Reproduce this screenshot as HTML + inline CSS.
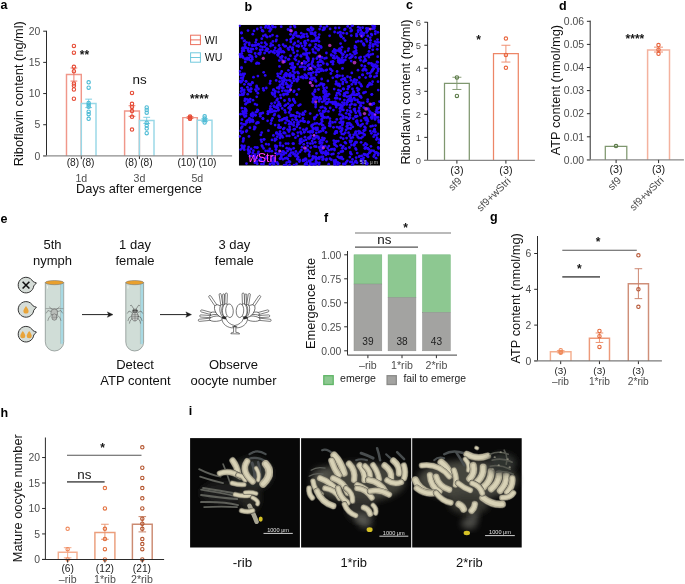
<!DOCTYPE html>
<html><head><meta charset="utf-8"><title>Figure</title>
<style>
html,body{margin:0;padding:0;background:#fff;}
svg{display:block;}
text{font-family:"Liberation Sans", Arial, Helvetica, sans-serif;}
</style></head>
<body>
<svg width="685" height="584" viewBox="0 0 685 584">
<defs><filter id="soft" x="-5%" y="-5%" width="110%" height="110%"><feGaussianBlur stdDeviation="0.55"/></filter><filter id="soft1" x="-50%" y="-50%" width="200%" height="200%"><feGaussianBlur stdDeviation="0.5"/></filter><filter id="blur3" x="-30%" y="-30%" width="160%" height="160%"><feGaussianBlur stdDeviation="3"/></filter></defs>
<rect width="685" height="584" fill="#fff"/>
<text x="0.60" y="9.20" font-size="12.5" fill="#000" text-anchor="start" font-weight="bold">a</text>
<line x1="46.50" y1="30.80" x2="46.50" y2="155.90" stroke="#2b2b2b" stroke-width="1"/>
<line x1="43.20" y1="155.90" x2="46.50" y2="155.90" stroke="#2b2b2b" stroke-width="1"/>
<text x="40.40" y="159.60" font-size="10.4" fill="#4d4d4d" text-anchor="end" font-weight="normal">0</text>
<line x1="43.20" y1="124.73" x2="46.50" y2="124.73" stroke="#2b2b2b" stroke-width="1"/>
<text x="40.40" y="128.43" font-size="10.4" fill="#4d4d4d" text-anchor="end" font-weight="normal">5</text>
<line x1="43.20" y1="93.55" x2="46.50" y2="93.55" stroke="#2b2b2b" stroke-width="1"/>
<text x="40.40" y="97.25" font-size="10.4" fill="#4d4d4d" text-anchor="end" font-weight="normal">10</text>
<line x1="43.20" y1="62.38" x2="46.50" y2="62.38" stroke="#2b2b2b" stroke-width="1"/>
<text x="40.40" y="66.08" font-size="10.4" fill="#4d4d4d" text-anchor="end" font-weight="normal">15</text>
<line x1="43.20" y1="31.20" x2="46.50" y2="31.20" stroke="#2b2b2b" stroke-width="1"/>
<text x="40.40" y="34.90" font-size="10.4" fill="#4d4d4d" text-anchor="end" font-weight="normal">20</text>
<path d="M66.50,155.90 V74.53 H81.30 V155.90" fill="none" stroke="#F0978A" stroke-width="1.45"/>
<path d="M81.30,155.90 V103.40 H96.00 V155.90" fill="none" stroke="#98D8E7" stroke-width="1.45"/>
<line x1="73.90" y1="67.99" x2="73.90" y2="81.08" stroke="#EC7868" stroke-width="0.95"/>
<line x1="70.50" y1="67.99" x2="77.30" y2="67.99" stroke="#EC7868" stroke-width="0.95"/>
<line x1="70.50" y1="81.08" x2="77.30" y2="81.08" stroke="#EC7868" stroke-width="0.95"/>
<line x1="88.65" y1="99.16" x2="88.65" y2="107.58" stroke="#7ACCE0" stroke-width="0.95"/>
<line x1="85.25" y1="99.16" x2="92.05" y2="99.16" stroke="#7ACCE0" stroke-width="0.95"/>
<line x1="85.25" y1="107.58" x2="92.05" y2="107.58" stroke="#7ACCE0" stroke-width="0.95"/>
<circle cx="73.90" cy="45.91" r="1.70" fill="none" stroke="#E64B35" stroke-width="1.1"/>
<circle cx="73.90" cy="52.71" r="1.70" fill="none" stroke="#E64B35" stroke-width="1.1"/>
<circle cx="73.90" cy="66.80" r="1.70" fill="none" stroke="#E64B35" stroke-width="1.1"/>
<circle cx="73.90" cy="71.23" r="1.70" fill="none" stroke="#E64B35" stroke-width="1.1"/>
<circle cx="73.90" cy="83.57" r="1.70" fill="none" stroke="#E64B35" stroke-width="1.1"/>
<circle cx="73.90" cy="85.76" r="1.70" fill="none" stroke="#E64B35" stroke-width="1.1"/>
<circle cx="73.90" cy="89.50" r="1.70" fill="none" stroke="#E64B35" stroke-width="1.1"/>
<circle cx="73.90" cy="98.73" r="1.70" fill="none" stroke="#E64B35" stroke-width="1.1"/>
<circle cx="88.65" cy="82.33" r="1.70" fill="none" stroke="#4DBBD5" stroke-width="1.1"/>
<circle cx="88.65" cy="87.63" r="1.70" fill="none" stroke="#4DBBD5" stroke-width="1.1"/>
<circle cx="88.65" cy="102.90" r="1.70" fill="none" stroke="#4DBBD5" stroke-width="1.1"/>
<circle cx="88.65" cy="104.77" r="1.70" fill="none" stroke="#4DBBD5" stroke-width="1.1"/>
<circle cx="88.65" cy="106.64" r="1.70" fill="none" stroke="#4DBBD5" stroke-width="1.1"/>
<circle cx="88.65" cy="111.63" r="1.70" fill="none" stroke="#4DBBD5" stroke-width="1.1"/>
<circle cx="88.65" cy="114.13" r="1.70" fill="none" stroke="#4DBBD5" stroke-width="1.1"/>
<circle cx="88.65" cy="118.80" r="1.70" fill="none" stroke="#4DBBD5" stroke-width="1.1"/>
<line x1="81.30" y1="155.90" x2="81.30" y2="159.10" stroke="#2b2b2b" stroke-width="1"/>
<path d="M124.60,155.90 V111.07 H139.40 V155.90" fill="none" stroke="#F0978A" stroke-width="1.45"/>
<path d="M139.40,155.90 V120.49 H154.00 V155.90" fill="none" stroke="#98D8E7" stroke-width="1.45"/>
<line x1="132.00" y1="105.71" x2="132.00" y2="116.31" stroke="#EC7868" stroke-width="0.95"/>
<line x1="128.60" y1="105.71" x2="135.40" y2="105.71" stroke="#EC7868" stroke-width="0.95"/>
<line x1="128.60" y1="116.31" x2="135.40" y2="116.31" stroke="#EC7868" stroke-width="0.95"/>
<line x1="146.70" y1="117.31" x2="146.70" y2="123.48" stroke="#7ACCE0" stroke-width="0.95"/>
<line x1="143.30" y1="117.31" x2="150.10" y2="117.31" stroke="#7ACCE0" stroke-width="0.95"/>
<line x1="143.30" y1="123.48" x2="150.10" y2="123.48" stroke="#7ACCE0" stroke-width="0.95"/>
<circle cx="132.00" cy="92.93" r="1.70" fill="none" stroke="#E64B35" stroke-width="1.1"/>
<circle cx="132.00" cy="103.78" r="1.70" fill="none" stroke="#E64B35" stroke-width="1.1"/>
<circle cx="132.00" cy="106.89" r="1.70" fill="none" stroke="#E64B35" stroke-width="1.1"/>
<circle cx="132.00" cy="111.07" r="1.70" fill="none" stroke="#E64B35" stroke-width="1.1"/>
<circle cx="132.00" cy="116.81" r="1.70" fill="none" stroke="#E64B35" stroke-width="1.1"/>
<circle cx="132.00" cy="129.59" r="1.70" fill="none" stroke="#E64B35" stroke-width="1.1"/>
<circle cx="146.70" cy="107.52" r="1.70" fill="none" stroke="#4DBBD5" stroke-width="1.1"/>
<circle cx="146.70" cy="110.01" r="1.70" fill="none" stroke="#4DBBD5" stroke-width="1.1"/>
<circle cx="146.70" cy="112.63" r="1.70" fill="none" stroke="#4DBBD5" stroke-width="1.1"/>
<circle cx="146.70" cy="122.73" r="1.70" fill="none" stroke="#4DBBD5" stroke-width="1.1"/>
<circle cx="146.70" cy="125.41" r="1.70" fill="none" stroke="#4DBBD5" stroke-width="1.1"/>
<circle cx="146.70" cy="128.53" r="1.70" fill="none" stroke="#4DBBD5" stroke-width="1.1"/>
<circle cx="146.70" cy="133.20" r="1.70" fill="none" stroke="#4DBBD5" stroke-width="1.1"/>
<line x1="139.40" y1="155.90" x2="139.40" y2="159.10" stroke="#2b2b2b" stroke-width="1"/>
<path d="M182.80,155.90 V117.62 H197.30 V155.90" fill="none" stroke="#F0978A" stroke-width="1.45"/>
<path d="M197.30,155.90 V120.30 H212.00 V155.90" fill="none" stroke="#98D8E7" stroke-width="1.45"/>
<line x1="190.05" y1="116.62" x2="190.05" y2="118.49" stroke="#EC7868" stroke-width="0.95"/>
<line x1="186.65" y1="116.62" x2="193.45" y2="116.62" stroke="#EC7868" stroke-width="0.95"/>
<line x1="186.65" y1="118.49" x2="193.45" y2="118.49" stroke="#EC7868" stroke-width="0.95"/>
<line x1="204.65" y1="118.80" x2="204.65" y2="121.61" stroke="#7ACCE0" stroke-width="0.95"/>
<line x1="201.25" y1="118.80" x2="208.05" y2="118.80" stroke="#7ACCE0" stroke-width="0.95"/>
<line x1="201.25" y1="121.61" x2="208.05" y2="121.61" stroke="#7ACCE0" stroke-width="0.95"/>
<circle cx="190.05" cy="116.62" r="1.70" fill="none" stroke="#E64B35" stroke-width="1.1"/>
<circle cx="190.05" cy="117.55" r="1.70" fill="none" stroke="#E64B35" stroke-width="1.1"/>
<circle cx="190.05" cy="118.49" r="1.70" fill="none" stroke="#E64B35" stroke-width="1.1"/>
<circle cx="190.05" cy="118.80" r="1.70" fill="none" stroke="#E64B35" stroke-width="1.1"/>
<circle cx="204.65" cy="116.31" r="1.70" fill="none" stroke="#4DBBD5" stroke-width="1.1"/>
<circle cx="204.65" cy="118.49" r="1.70" fill="none" stroke="#4DBBD5" stroke-width="1.1"/>
<circle cx="204.65" cy="120.36" r="1.70" fill="none" stroke="#4DBBD5" stroke-width="1.1"/>
<circle cx="204.65" cy="122.54" r="1.70" fill="none" stroke="#4DBBD5" stroke-width="1.1"/>
<line x1="197.30" y1="155.90" x2="197.30" y2="159.10" stroke="#2b2b2b" stroke-width="1"/>
<line x1="43.20" y1="155.90" x2="232.10" y2="155.90" stroke="#8c8c8c" stroke-width="1.3"/>
<text x="80.60" y="166.40" font-size="10.2" fill="#222" text-anchor="middle" font-weight="normal">(8) (8)</text>
<text x="138.80" y="166.40" font-size="10.2" fill="#222" text-anchor="middle" font-weight="normal">(8) (8)</text>
<text x="197.00" y="166.40" font-size="10.2" fill="#222" text-anchor="middle" font-weight="normal">(10) (10)</text>
<text x="81.30" y="182.00" font-size="10.6" fill="#4d4d4d" text-anchor="middle" font-weight="normal">1d</text>
<text x="139.40" y="182.00" font-size="10.6" fill="#4d4d4d" text-anchor="middle" font-weight="normal">3d</text>
<text x="197.30" y="182.00" font-size="10.6" fill="#4d4d4d" text-anchor="middle" font-weight="normal">5d</text>
<text x="139.00" y="193.40" font-size="12.8" fill="#111" text-anchor="middle" font-weight="normal">Days after emergence</text>
<text transform="translate(23.30,93.70) rotate(-90)" font-size="12.8" fill="#111" text-anchor="middle">Riboflavin content (ng/ml)</text>
<text x="84.45" y="58.80" font-size="12.0" fill="#151515" text-anchor="middle" font-weight="bold">**</text>
<text x="139.60" y="83.60" font-size="13.4" fill="#111" text-anchor="middle" font-weight="normal">ns</text>
<text x="199.30" y="102.60" font-size="12.0" fill="#151515" text-anchor="middle" font-weight="bold">****</text>
<rect x="190.60" y="35.20" width="9.80" height="9.40" fill="none" stroke="#E64B35" stroke-width="1" stroke-opacity="0.8"/>
<line x1="190.60" y1="39.90" x2="200.40" y2="39.90" stroke="#E64B35" stroke-width="1" stroke-opacity="0.8"/>
<text x="204.70" y="43.80" font-size="10.6" fill="#111" text-anchor="start" font-weight="normal">WI</text>
<rect x="190.60" y="52.80" width="9.80" height="9.40" fill="none" stroke="#4DBBD5" stroke-width="1" stroke-opacity="0.8"/>
<line x1="190.60" y1="57.50" x2="200.40" y2="57.50" stroke="#4DBBD5" stroke-width="1" stroke-opacity="0.8"/>
<text x="204.70" y="61.40" font-size="10.6" fill="#111" text-anchor="start" font-weight="normal">WU</text>
<text x="244.60" y="10.80" font-size="12.5" fill="#000" text-anchor="start" font-weight="bold">b</text>
<clipPath id="mclip"><rect x="238.8" y="24.8" width="141.2" height="140.9"/></clipPath><g id="micro" clip-path="url(#mclip)">
<rect x="238.80" y="24.80" width="141.20" height="140.90" fill="#000" stroke="none" stroke-width="1"/>
<g fill="#2a06f8"><circle cx="267.0" cy="158.2" r="1.38"/><circle cx="324.0" cy="84.4" r="1.38"/><circle cx="254.0" cy="30.9" r="1.38"/><circle cx="354.8" cy="108.8" r="1.38"/><circle cx="280.6" cy="50.0" r="1.38"/><circle cx="340.3" cy="35.1" r="1.38"/><circle cx="271.5" cy="103.6" r="1.38"/><circle cx="358.8" cy="111.3" r="1.38"/><circle cx="278.7" cy="153.7" r="1.38"/><circle cx="268.1" cy="27.8" r="1.38"/><circle cx="277.2" cy="87.8" r="1.38"/><circle cx="248.0" cy="50.1" r="1.38"/><circle cx="291.1" cy="105.4" r="1.38"/><circle cx="257.9" cy="76.1" r="1.38"/><circle cx="376.8" cy="117.3" r="1.38"/><circle cx="336.3" cy="107.1" r="1.38"/><circle cx="366.9" cy="123.4" r="1.38"/><circle cx="374.3" cy="28.5" r="1.38"/><circle cx="284.1" cy="165.1" r="1.38"/><circle cx="250.0" cy="101.8" r="1.38"/><circle cx="342.7" cy="151.3" r="1.38"/><circle cx="342.7" cy="123.8" r="1.38"/><circle cx="350.6" cy="153.3" r="1.38"/><circle cx="288.8" cy="121.2" r="1.38"/><circle cx="365.6" cy="147.2" r="1.38"/><circle cx="297.9" cy="135.9" r="1.38"/><circle cx="360.4" cy="105.5" r="1.38"/><circle cx="378.6" cy="148.4" r="1.38"/><circle cx="341.4" cy="79.8" r="1.38"/><circle cx="342.4" cy="106.7" r="1.38"/><circle cx="344.5" cy="29.7" r="1.38"/><circle cx="323.7" cy="92.7" r="1.38"/><circle cx="325.5" cy="154.1" r="1.38"/><circle cx="275.3" cy="27.1" r="1.38"/><circle cx="281.6" cy="120.2" r="1.38"/><circle cx="267.9" cy="49.2" r="1.38"/><circle cx="366.3" cy="117.7" r="1.38"/><circle cx="301.4" cy="150.1" r="1.38"/><circle cx="285.3" cy="118.5" r="1.38"/><circle cx="367.5" cy="148.5" r="1.38"/><circle cx="358.3" cy="124.9" r="1.38"/><circle cx="372.5" cy="64.2" r="1.38"/><circle cx="263.2" cy="88.5" r="1.38"/><circle cx="278.0" cy="55.4" r="1.38"/><circle cx="297.5" cy="112.9" r="1.38"/><circle cx="308.6" cy="69.6" r="1.38"/><circle cx="357.0" cy="162.7" r="1.38"/><circle cx="302.8" cy="35.9" r="1.38"/><circle cx="243.9" cy="147.4" r="1.38"/><circle cx="245.3" cy="124.5" r="1.38"/><circle cx="319.4" cy="68.7" r="1.38"/><circle cx="350.3" cy="28.2" r="1.38"/><circle cx="258.5" cy="89.0" r="1.38"/><circle cx="243.0" cy="141.4" r="1.38"/><circle cx="272.7" cy="45.2" r="1.38"/><circle cx="246.1" cy="113.4" r="1.38"/><circle cx="352.5" cy="159.4" r="1.38"/><circle cx="335.3" cy="53.3" r="1.38"/><circle cx="306.0" cy="50.5" r="1.38"/><circle cx="241.0" cy="91.5" r="1.38"/><circle cx="339.5" cy="50.5" r="1.38"/><circle cx="277.6" cy="73.8" r="1.38"/><circle cx="337.1" cy="98.2" r="1.38"/><circle cx="350.4" cy="152.1" r="1.38"/><circle cx="251.7" cy="155.8" r="1.38"/><circle cx="340.6" cy="43.6" r="1.38"/><circle cx="303.0" cy="112.9" r="1.38"/><circle cx="292.3" cy="105.0" r="1.38"/><circle cx="362.6" cy="136.8" r="1.38"/><circle cx="329.3" cy="125.8" r="1.38"/><circle cx="269.4" cy="151.2" r="1.38"/><circle cx="284.4" cy="152.6" r="1.38"/><circle cx="307.7" cy="29.5" r="1.38"/><circle cx="263.7" cy="72.3" r="1.38"/><circle cx="311.8" cy="126.6" r="1.38"/><circle cx="357.1" cy="121.8" r="1.38"/><circle cx="371.9" cy="94.3" r="1.38"/><circle cx="251.5" cy="56.4" r="1.38"/><circle cx="313.2" cy="66.0" r="1.38"/><circle cx="341.5" cy="114.8" r="1.38"/><circle cx="312.7" cy="143.4" r="1.38"/><circle cx="317.9" cy="69.0" r="1.38"/><circle cx="292.9" cy="143.6" r="1.38"/><circle cx="268.7" cy="144.4" r="1.38"/><circle cx="324.2" cy="29.4" r="1.38"/><circle cx="351.6" cy="104.1" r="1.38"/><circle cx="308.2" cy="122.0" r="1.38"/><circle cx="248.7" cy="100.8" r="1.38"/><circle cx="297.4" cy="159.2" r="1.38"/><circle cx="368.8" cy="63.1" r="1.38"/><circle cx="305.7" cy="43.2" r="1.38"/><circle cx="300.2" cy="139.5" r="1.38"/><circle cx="365.6" cy="92.1" r="1.38"/><circle cx="283.9" cy="52.2" r="1.38"/><circle cx="326.0" cy="154.8" r="1.38"/><circle cx="284.6" cy="75.1" r="1.38"/><circle cx="256.7" cy="96.8" r="1.38"/><circle cx="274.6" cy="53.1" r="1.38"/><circle cx="268.1" cy="113.7" r="1.38"/><circle cx="328.9" cy="99.5" r="1.38"/><circle cx="358.7" cy="111.0" r="1.38"/><circle cx="359.4" cy="58.0" r="1.38"/><circle cx="343.2" cy="138.7" r="1.38"/><circle cx="365.9" cy="69.6" r="1.38"/><circle cx="283.6" cy="154.4" r="1.38"/><circle cx="270.0" cy="165.0" r="1.38"/><circle cx="363.8" cy="44.2" r="1.38"/><circle cx="335.4" cy="28.0" r="1.38"/><circle cx="267.6" cy="120.8" r="1.38"/><circle cx="375.1" cy="41.6" r="1.38"/><circle cx="310.3" cy="131.4" r="1.38"/><circle cx="316.7" cy="97.4" r="1.38"/><circle cx="319.1" cy="46.0" r="1.38"/><circle cx="378.1" cy="155.0" r="1.38"/><circle cx="252.8" cy="34.2" r="1.38"/><circle cx="304.2" cy="132.3" r="1.38"/><circle cx="285.3" cy="90.7" r="1.38"/><circle cx="241.4" cy="123.4" r="1.38"/><circle cx="343.0" cy="82.1" r="1.38"/><circle cx="266.8" cy="48.6" r="1.38"/><circle cx="311.3" cy="27.7" r="1.38"/><circle cx="360.0" cy="113.4" r="1.38"/><circle cx="377.1" cy="137.9" r="1.38"/><circle cx="275.7" cy="152.8" r="1.38"/><circle cx="343.7" cy="134.2" r="1.38"/><circle cx="353.5" cy="82.2" r="1.38"/><circle cx="365.0" cy="148.4" r="1.38"/><circle cx="336.8" cy="132.7" r="1.38"/><circle cx="346.6" cy="82.2" r="1.38"/><circle cx="340.7" cy="35.4" r="1.38"/><circle cx="287.3" cy="91.0" r="1.38"/><circle cx="241.0" cy="75.2" r="1.38"/><circle cx="371.8" cy="118.6" r="1.38"/><circle cx="286.8" cy="117.7" r="1.38"/><circle cx="319.2" cy="100.0" r="1.38"/><circle cx="294.0" cy="165.2" r="1.38"/><circle cx="329.4" cy="123.5" r="1.38"/><circle cx="346.1" cy="162.4" r="1.38"/><circle cx="242.7" cy="111.5" r="1.38"/><circle cx="342.9" cy="61.4" r="1.38"/><circle cx="295.7" cy="32.5" r="1.38"/><circle cx="310.6" cy="160.6" r="1.38"/><circle cx="319.0" cy="164.5" r="1.38"/><circle cx="369.7" cy="47.8" r="1.38"/><circle cx="305.5" cy="49.1" r="1.38"/><circle cx="371.8" cy="84.3" r="1.38"/><circle cx="279.5" cy="117.0" r="1.38"/><circle cx="318.0" cy="65.1" r="1.38"/><circle cx="345.2" cy="80.0" r="1.38"/><circle cx="365.2" cy="130.0" r="1.38"/><circle cx="246.5" cy="163.6" r="1.38"/><circle cx="249.8" cy="152.0" r="1.38"/><circle cx="312.8" cy="156.4" r="1.38"/><circle cx="340.7" cy="90.9" r="1.38"/><circle cx="376.5" cy="139.6" r="1.38"/><circle cx="303.3" cy="54.0" r="1.38"/><circle cx="246.8" cy="99.3" r="1.38"/><circle cx="256.9" cy="87.4" r="1.38"/><circle cx="321.0" cy="84.1" r="1.38"/><circle cx="348.4" cy="99.6" r="1.38"/><circle cx="272.9" cy="41.4" r="1.38"/><circle cx="364.5" cy="135.1" r="1.38"/><circle cx="335.4" cy="104.4" r="1.38"/><circle cx="322.3" cy="113.9" r="1.38"/><circle cx="345.0" cy="52.0" r="1.38"/><circle cx="274.4" cy="162.4" r="1.38"/><circle cx="367.7" cy="148.3" r="1.38"/><circle cx="315.3" cy="35.6" r="1.38"/><circle cx="251.6" cy="120.0" r="1.38"/><circle cx="306.5" cy="54.9" r="1.38"/><circle cx="287.6" cy="129.6" r="1.38"/><circle cx="356.9" cy="35.9" r="1.38"/><circle cx="347.1" cy="55.3" r="1.38"/><circle cx="298.9" cy="61.6" r="1.38"/><circle cx="378.0" cy="71.0" r="1.38"/><circle cx="316.3" cy="129.7" r="1.38"/><circle cx="368.4" cy="85.2" r="1.38"/><circle cx="291.2" cy="39.1" r="1.38"/><circle cx="362.0" cy="36.5" r="1.38"/><circle cx="250.2" cy="55.3" r="1.38"/><circle cx="341.0" cy="122.4" r="1.38"/><circle cx="279.1" cy="45.5" r="1.38"/><circle cx="289.6" cy="126.9" r="1.38"/><circle cx="290.8" cy="41.9" r="1.38"/><circle cx="338.8" cy="105.0" r="1.38"/><circle cx="368.1" cy="156.8" r="1.38"/><circle cx="367.4" cy="86.7" r="1.38"/><circle cx="295.4" cy="156.1" r="1.38"/><circle cx="364.8" cy="60.2" r="1.38"/><circle cx="290.1" cy="76.6" r="1.38"/><circle cx="290.4" cy="80.8" r="1.38"/><circle cx="293.8" cy="52.7" r="1.38"/><circle cx="318.4" cy="136.9" r="1.38"/><circle cx="315.2" cy="142.3" r="1.38"/><circle cx="318.3" cy="50.2" r="1.38"/><circle cx="345.8" cy="148.6" r="1.38"/><circle cx="315.7" cy="104.8" r="1.38"/><circle cx="374.8" cy="116.5" r="1.38"/><circle cx="342.7" cy="151.1" r="1.38"/><circle cx="251.4" cy="114.1" r="1.38"/><circle cx="312.5" cy="132.3" r="1.38"/><circle cx="294.7" cy="72.7" r="1.38"/><circle cx="375.1" cy="119.4" r="1.38"/><circle cx="338.6" cy="153.3" r="1.38"/><circle cx="359.0" cy="138.1" r="1.38"/><circle cx="356.2" cy="149.6" r="1.38"/><circle cx="373.6" cy="114.9" r="1.38"/><circle cx="312.8" cy="124.7" r="1.38"/><circle cx="351.8" cy="84.4" r="1.38"/><circle cx="298.4" cy="45.9" r="1.38"/><circle cx="343.3" cy="163.9" r="1.38"/><circle cx="292.1" cy="48.9" r="1.38"/><circle cx="375.3" cy="33.8" r="1.38"/><circle cx="348.1" cy="50.6" r="1.38"/><circle cx="248.2" cy="89.6" r="1.38"/><circle cx="321.3" cy="152.5" r="1.38"/><circle cx="244.6" cy="40.7" r="1.38"/><circle cx="339.9" cy="108.6" r="1.38"/><circle cx="270.9" cy="51.3" r="1.38"/><circle cx="278.8" cy="49.6" r="1.38"/><circle cx="353.9" cy="92.5" r="1.38"/><circle cx="276.0" cy="149.5" r="1.38"/><circle cx="367.5" cy="73.3" r="1.38"/><circle cx="316.1" cy="159.2" r="1.38"/><circle cx="307.1" cy="56.4" r="1.38"/><circle cx="293.4" cy="99.2" r="1.38"/><circle cx="311.7" cy="63.9" r="1.38"/><circle cx="378.1" cy="117.4" r="1.38"/><circle cx="272.8" cy="27.0" r="1.38"/><circle cx="305.7" cy="77.4" r="1.38"/><circle cx="351.0" cy="125.1" r="1.38"/><circle cx="284.6" cy="61.7" r="1.38"/><circle cx="361.2" cy="97.6" r="1.38"/><circle cx="328.7" cy="164.2" r="1.38"/><circle cx="276.8" cy="100.2" r="1.38"/><circle cx="354.5" cy="143.7" r="1.38"/><circle cx="305.1" cy="159.0" r="1.38"/><circle cx="321.6" cy="145.3" r="1.38"/><circle cx="282.0" cy="135.8" r="1.38"/><circle cx="297.9" cy="153.6" r="1.38"/><circle cx="315.6" cy="98.9" r="1.38"/><circle cx="261.6" cy="141.7" r="1.38"/><circle cx="282.3" cy="90.8" r="1.38"/><circle cx="339.6" cy="75.8" r="1.38"/><circle cx="304.1" cy="160.6" r="1.38"/><circle cx="355.7" cy="116.9" r="1.38"/><circle cx="241.2" cy="78.2" r="1.38"/><circle cx="338.9" cy="58.7" r="1.38"/><circle cx="318.5" cy="89.5" r="1.38"/><circle cx="268.4" cy="111.6" r="1.38"/><circle cx="280.2" cy="78.0" r="1.38"/><circle cx="315.1" cy="67.2" r="1.38"/><circle cx="286.7" cy="80.3" r="1.38"/><circle cx="332.8" cy="61.3" r="1.38"/><circle cx="371.8" cy="104.1" r="1.38"/><circle cx="252.4" cy="45.2" r="1.38"/><circle cx="252.7" cy="120.2" r="1.38"/><circle cx="338.7" cy="50.6" r="1.38"/><circle cx="252.1" cy="57.2" r="1.38"/><circle cx="261.5" cy="42.8" r="1.38"/><circle cx="296.5" cy="35.7" r="1.38"/><circle cx="368.4" cy="85.2" r="1.38"/><circle cx="354.5" cy="79.4" r="1.38"/><circle cx="285.9" cy="83.1" r="1.38"/><circle cx="241.7" cy="81.5" r="1.38"/><circle cx="337.5" cy="162.7" r="1.38"/><circle cx="350.1" cy="117.7" r="1.38"/><circle cx="324.7" cy="28.1" r="1.38"/><circle cx="285.8" cy="73.3" r="1.38"/><circle cx="310.8" cy="135.7" r="1.38"/><circle cx="355.0" cy="110.9" r="1.38"/><circle cx="261.7" cy="132.6" r="1.38"/><circle cx="316.3" cy="74.8" r="1.38"/><circle cx="309.6" cy="45.3" r="1.38"/><circle cx="339.4" cy="163.4" r="1.38"/><circle cx="311.7" cy="125.4" r="1.38"/><circle cx="356.5" cy="53.0" r="1.38"/><circle cx="371.8" cy="113.1" r="1.38"/><circle cx="267.2" cy="37.1" r="1.38"/><circle cx="273.7" cy="106.0" r="1.38"/><circle cx="337.1" cy="71.5" r="1.38"/><circle cx="290.1" cy="90.2" r="1.38"/><circle cx="256.9" cy="161.5" r="1.38"/><circle cx="258.5" cy="151.8" r="1.38"/><circle cx="315.6" cy="103.8" r="1.38"/><circle cx="317.9" cy="62.4" r="1.38"/><circle cx="366.8" cy="164.1" r="1.38"/><circle cx="354.0" cy="109.5" r="1.38"/><circle cx="365.1" cy="59.1" r="1.38"/><circle cx="319.8" cy="141.6" r="1.38"/><circle cx="244.0" cy="50.7" r="1.38"/><circle cx="282.6" cy="119.3" r="1.38"/><circle cx="342.8" cy="78.8" r="1.38"/><circle cx="322.4" cy="137.8" r="1.38"/><circle cx="241.8" cy="53.4" r="1.38"/><circle cx="305.0" cy="45.5" r="1.38"/><circle cx="312.3" cy="62.3" r="1.38"/><circle cx="319.0" cy="71.9" r="1.38"/><circle cx="259.8" cy="159.5" r="1.38"/><circle cx="323.5" cy="91.1" r="1.38"/><circle cx="297.1" cy="112.6" r="1.38"/><circle cx="336.0" cy="131.4" r="1.38"/><circle cx="344.7" cy="93.4" r="1.38"/><circle cx="378.7" cy="142.6" r="1.38"/><circle cx="359.2" cy="82.6" r="1.38"/><circle cx="300.3" cy="104.6" r="1.38"/><circle cx="313.1" cy="98.8" r="1.38"/><circle cx="300.0" cy="151.8" r="1.38"/><circle cx="365.5" cy="127.8" r="1.38"/><circle cx="323.2" cy="130.5" r="1.38"/><circle cx="282.2" cy="108.4" r="1.38"/><circle cx="249.3" cy="42.9" r="1.38"/><circle cx="246.8" cy="122.6" r="1.38"/><circle cx="313.2" cy="58.9" r="1.38"/><circle cx="282.4" cy="80.8" r="1.38"/><circle cx="272.5" cy="35.1" r="1.38"/><circle cx="374.8" cy="118.5" r="1.38"/><circle cx="360.8" cy="84.4" r="1.38"/><circle cx="352.2" cy="56.5" r="1.38"/><circle cx="344.0" cy="104.7" r="1.38"/><circle cx="366.0" cy="39.3" r="1.38"/><circle cx="372.6" cy="25.6" r="1.38"/><circle cx="248.3" cy="150.5" r="1.38"/><circle cx="353.7" cy="81.0" r="1.38"/><circle cx="289.4" cy="107.3" r="1.38"/><circle cx="309.3" cy="156.0" r="1.38"/><circle cx="280.8" cy="154.4" r="1.38"/><circle cx="289.1" cy="91.5" r="1.38"/><circle cx="263.6" cy="148.4" r="1.38"/><circle cx="267.8" cy="113.8" r="1.38"/><circle cx="254.4" cy="126.9" r="1.38"/><circle cx="283.3" cy="151.3" r="1.38"/><circle cx="361.2" cy="125.1" r="1.38"/><circle cx="258.4" cy="122.7" r="1.38"/><circle cx="301.8" cy="36.5" r="1.38"/><circle cx="267.0" cy="50.8" r="1.38"/><circle cx="272.5" cy="118.3" r="1.38"/><circle cx="350.2" cy="77.5" r="1.38"/><circle cx="332.2" cy="149.1" r="1.38"/><circle cx="322.1" cy="57.5" r="1.38"/><circle cx="281.6" cy="155.0" r="1.38"/><circle cx="332.9" cy="64.2" r="1.38"/><circle cx="313.5" cy="99.7" r="1.38"/><circle cx="245.8" cy="109.3" r="1.38"/><circle cx="279.3" cy="60.6" r="1.38"/><circle cx="345.3" cy="59.9" r="1.38"/><circle cx="278.6" cy="102.1" r="1.38"/><circle cx="265.6" cy="150.8" r="1.38"/><circle cx="244.2" cy="90.0" r="1.38"/><circle cx="344.6" cy="79.2" r="1.38"/><circle cx="310.3" cy="143.6" r="1.38"/><circle cx="335.3" cy="98.2" r="1.38"/><circle cx="372.7" cy="49.8" r="1.38"/><circle cx="348.7" cy="48.6" r="1.38"/><circle cx="324.6" cy="58.4" r="1.38"/><circle cx="301.2" cy="133.5" r="1.38"/><circle cx="349.6" cy="136.0" r="1.38"/><circle cx="272.5" cy="93.8" r="1.38"/><circle cx="270.5" cy="106.5" r="1.38"/><circle cx="309.4" cy="30.4" r="1.38"/><circle cx="323.1" cy="125.3" r="1.38"/><circle cx="319.7" cy="147.4" r="1.38"/><circle cx="264.7" cy="46.7" r="1.38"/><circle cx="242.0" cy="94.8" r="1.38"/><circle cx="351.3" cy="35.6" r="1.38"/><circle cx="319.1" cy="101.4" r="1.38"/><circle cx="326.5" cy="98.9" r="1.38"/><circle cx="276.6" cy="107.7" r="1.38"/><circle cx="275.2" cy="47.8" r="1.38"/><circle cx="336.2" cy="141.6" r="1.38"/><circle cx="290.5" cy="55.7" r="1.38"/><circle cx="375.4" cy="31.4" r="1.38"/><circle cx="308.0" cy="131.8" r="1.38"/><circle cx="377.6" cy="45.7" r="1.38"/><circle cx="303.2" cy="129.6" r="1.38"/><circle cx="245.0" cy="59.1" r="1.38"/><circle cx="364.1" cy="45.3" r="1.38"/><circle cx="294.5" cy="67.1" r="1.38"/><circle cx="298.9" cy="36.2" r="1.38"/><circle cx="342.3" cy="57.6" r="1.38"/><circle cx="274.9" cy="102.6" r="1.38"/><circle cx="273.3" cy="90.0" r="1.38"/><circle cx="370.0" cy="76.4" r="1.38"/><circle cx="286.7" cy="162.6" r="1.38"/><circle cx="336.8" cy="146.3" r="1.38"/><circle cx="322.2" cy="149.3" r="1.38"/><circle cx="292.9" cy="134.7" r="1.38"/><circle cx="316.4" cy="48.4" r="1.38"/><circle cx="282.7" cy="88.0" r="1.38"/><circle cx="378.6" cy="120.4" r="1.38"/><circle cx="249.7" cy="122.1" r="1.38"/><circle cx="290.3" cy="63.9" r="1.38"/><circle cx="242.1" cy="50.9" r="1.38"/><circle cx="276.2" cy="80.4" r="1.38"/><circle cx="339.6" cy="63.0" r="1.38"/><circle cx="290.1" cy="46.9" r="1.38"/><circle cx="370.6" cy="75.8" r="1.38"/><circle cx="346.7" cy="126.6" r="1.38"/><circle cx="366.5" cy="28.3" r="1.38"/><circle cx="284.6" cy="79.2" r="1.38"/><circle cx="251.1" cy="148.8" r="1.38"/><circle cx="285.0" cy="133.2" r="1.38"/><circle cx="312.2" cy="33.2" r="1.38"/><circle cx="294.7" cy="58.8" r="1.38"/><circle cx="245.2" cy="46.6" r="1.38"/><circle cx="322.9" cy="29.9" r="1.38"/><circle cx="283.2" cy="84.7" r="1.38"/><circle cx="315.7" cy="44.5" r="1.38"/><circle cx="338.4" cy="61.9" r="1.38"/><circle cx="341.1" cy="118.6" r="1.38"/><circle cx="260.1" cy="54.1" r="1.38"/><circle cx="278.7" cy="125.1" r="1.38"/><circle cx="296.2" cy="79.5" r="1.38"/><circle cx="360.7" cy="57.1" r="1.38"/><circle cx="280.4" cy="73.7" r="1.38"/><circle cx="269.7" cy="31.2" r="1.38"/><circle cx="242.9" cy="113.6" r="1.38"/><circle cx="318.7" cy="138.5" r="1.38"/><circle cx="376.1" cy="67.1" r="1.38"/><circle cx="333.4" cy="153.9" r="1.38"/><circle cx="294.4" cy="33.9" r="1.38"/><circle cx="293.2" cy="71.3" r="1.38"/><circle cx="309.1" cy="64.6" r="1.38"/><circle cx="262.8" cy="118.4" r="1.38"/><circle cx="298.6" cy="46.6" r="1.38"/><circle cx="321.1" cy="123.5" r="1.38"/><circle cx="316.9" cy="123.3" r="1.38"/><circle cx="242.7" cy="80.2" r="1.38"/><circle cx="290.5" cy="34.3" r="1.38"/><circle cx="296.1" cy="33.1" r="1.38"/><circle cx="285.1" cy="60.9" r="1.38"/><circle cx="242.8" cy="74.0" r="1.38"/><circle cx="318.7" cy="62.1" r="1.38"/><circle cx="333.0" cy="51.5" r="1.38"/><circle cx="305.2" cy="111.5" r="1.38"/><circle cx="290.3" cy="106.0" r="1.38"/><circle cx="371.4" cy="133.3" r="1.38"/><circle cx="297.7" cy="64.1" r="1.38"/><circle cx="355.6" cy="148.4" r="1.38"/><circle cx="293.0" cy="152.6" r="1.38"/><circle cx="244.8" cy="44.5" r="1.38"/><circle cx="310.5" cy="68.6" r="1.38"/><circle cx="290.0" cy="162.0" r="1.38"/><circle cx="260.5" cy="52.4" r="1.38"/><circle cx="271.5" cy="120.5" r="1.38"/><circle cx="272.3" cy="25.6" r="1.38"/><circle cx="315.6" cy="80.5" r="1.38"/><circle cx="273.0" cy="94.5" r="1.38"/><circle cx="330.5" cy="102.1" r="1.38"/><circle cx="326.9" cy="103.8" r="1.38"/><circle cx="355.9" cy="160.8" r="1.38"/><circle cx="286.2" cy="73.9" r="1.38"/><circle cx="363.6" cy="69.3" r="1.38"/><circle cx="339.7" cy="122.6" r="1.38"/><circle cx="335.6" cy="160.2" r="1.38"/><circle cx="354.9" cy="47.8" r="1.38"/><circle cx="326.5" cy="94.0" r="1.38"/><circle cx="344.4" cy="100.1" r="1.38"/><circle cx="347.6" cy="92.7" r="1.38"/><circle cx="262.3" cy="146.5" r="1.38"/><circle cx="361.3" cy="33.0" r="1.38"/><circle cx="275.0" cy="96.4" r="1.38"/><circle cx="351.0" cy="80.3" r="1.38"/><circle cx="339.7" cy="60.7" r="1.38"/><circle cx="345.8" cy="143.2" r="1.38"/><circle cx="355.5" cy="104.8" r="1.38"/><circle cx="298.4" cy="124.3" r="1.38"/><circle cx="326.7" cy="141.6" r="1.38"/><circle cx="333.2" cy="57.8" r="1.38"/><circle cx="265.4" cy="27.4" r="1.38"/><circle cx="321.5" cy="157.0" r="1.38"/><circle cx="375.4" cy="44.2" r="1.38"/><circle cx="335.8" cy="84.1" r="1.38"/><circle cx="327.9" cy="80.9" r="1.38"/><circle cx="377.9" cy="32.3" r="1.38"/><circle cx="279.5" cy="127.7" r="1.38"/><circle cx="378.6" cy="42.3" r="1.38"/><circle cx="307.1" cy="77.7" r="1.38"/><circle cx="282.8" cy="137.3" r="1.38"/><circle cx="326.0" cy="132.4" r="1.38"/><circle cx="294.0" cy="122.5" r="1.38"/><circle cx="315.9" cy="137.3" r="1.38"/><circle cx="260.1" cy="50.0" r="1.38"/><circle cx="254.5" cy="155.9" r="1.38"/><circle cx="274.7" cy="93.7" r="1.38"/><circle cx="318.7" cy="45.6" r="1.38"/><circle cx="327.0" cy="63.8" r="1.38"/><circle cx="364.5" cy="68.7" r="1.38"/><circle cx="250.5" cy="51.0" r="1.38"/><circle cx="307.2" cy="164.8" r="1.38"/><circle cx="247.6" cy="102.4" r="1.38"/><circle cx="370.9" cy="146.3" r="1.38"/><circle cx="301.5" cy="142.0" r="1.38"/><circle cx="341.0" cy="50.1" r="1.38"/><circle cx="243.2" cy="49.1" r="1.38"/><circle cx="241.0" cy="54.9" r="1.38"/><circle cx="373.8" cy="27.0" r="1.38"/><circle cx="313.3" cy="138.7" r="1.38"/><circle cx="350.4" cy="128.2" r="1.38"/><circle cx="295.4" cy="137.7" r="1.38"/><circle cx="355.4" cy="132.7" r="1.38"/><circle cx="377.5" cy="39.6" r="1.38"/><circle cx="372.6" cy="81.7" r="1.38"/><circle cx="338.2" cy="60.5" r="1.38"/><circle cx="366.8" cy="28.8" r="1.38"/><circle cx="320.3" cy="57.2" r="1.38"/><circle cx="293.9" cy="77.1" r="1.38"/><circle cx="366.2" cy="70.4" r="1.38"/><circle cx="334.7" cy="50.3" r="1.38"/><circle cx="254.3" cy="45.5" r="1.38"/><circle cx="288.5" cy="85.7" r="1.38"/><circle cx="284.5" cy="100.5" r="1.38"/><circle cx="372.8" cy="54.1" r="1.38"/><circle cx="362.8" cy="70.3" r="1.38"/><circle cx="345.1" cy="40.6" r="1.38"/><circle cx="299.7" cy="160.0" r="1.38"/><circle cx="372.2" cy="70.5" r="1.38"/><circle cx="265.2" cy="75.4" r="1.38"/><circle cx="260.2" cy="114.2" r="1.38"/><circle cx="292.4" cy="115.4" r="1.38"/><circle cx="269.2" cy="111.6" r="1.38"/><circle cx="363.8" cy="145.1" r="1.38"/><circle cx="327.5" cy="96.0" r="1.38"/><circle cx="319.0" cy="41.4" r="1.38"/><circle cx="356.7" cy="121.9" r="1.38"/><circle cx="303.0" cy="118.5" r="1.38"/><circle cx="298.2" cy="79.2" r="1.38"/><circle cx="271.7" cy="109.4" r="1.38"/><circle cx="319.7" cy="97.5" r="1.38"/><circle cx="244.0" cy="113.1" r="1.38"/><circle cx="369.9" cy="46.7" r="1.38"/><circle cx="305.1" cy="164.2" r="1.38"/><circle cx="378.0" cy="81.7" r="1.38"/><circle cx="257.2" cy="163.8" r="1.38"/><circle cx="308.3" cy="58.2" r="1.38"/><circle cx="357.1" cy="116.2" r="1.38"/><circle cx="311.1" cy="164.3" r="1.38"/><circle cx="248.6" cy="147.1" r="1.38"/><circle cx="339.1" cy="60.5" r="1.38"/><circle cx="352.5" cy="88.9" r="1.38"/><circle cx="314.6" cy="146.4" r="1.38"/><circle cx="308.2" cy="59.3" r="1.38"/><circle cx="351.5" cy="145.0" r="1.38"/><circle cx="347.4" cy="102.2" r="1.38"/><circle cx="290.7" cy="39.5" r="1.38"/><circle cx="244.7" cy="73.8" r="1.38"/><circle cx="356.2" cy="41.9" r="1.38"/><circle cx="325.9" cy="151.5" r="1.38"/><circle cx="327.6" cy="148.0" r="1.38"/><circle cx="341.4" cy="53.0" r="1.38"/><circle cx="278.5" cy="109.7" r="1.38"/><circle cx="336.8" cy="50.7" r="1.38"/><circle cx="257.4" cy="122.4" r="1.38"/><circle cx="304.8" cy="43.5" r="1.38"/><circle cx="255.7" cy="157.0" r="1.38"/><circle cx="378.8" cy="122.1" r="1.38"/><circle cx="342.6" cy="75.8" r="1.38"/><circle cx="282.9" cy="82.5" r="1.38"/><circle cx="260.0" cy="113.7" r="1.38"/><circle cx="338.0" cy="58.3" r="1.38"/><circle cx="320.6" cy="65.3" r="1.38"/><circle cx="361.7" cy="65.5" r="1.38"/><circle cx="334.2" cy="89.1" r="1.38"/><circle cx="293.8" cy="129.3" r="1.38"/><circle cx="323.7" cy="88.1" r="1.38"/><circle cx="248.5" cy="84.0" r="1.38"/><circle cx="278.9" cy="87.1" r="1.38"/><circle cx="373.1" cy="66.4" r="1.38"/><circle cx="336.8" cy="119.4" r="1.38"/><circle cx="364.9" cy="60.7" r="1.38"/><circle cx="298.4" cy="73.2" r="1.38"/><circle cx="354.4" cy="144.3" r="1.38"/><circle cx="322.2" cy="101.8" r="1.38"/><circle cx="253.4" cy="150.7" r="1.38"/><circle cx="340.7" cy="119.0" r="1.38"/><circle cx="287.6" cy="150.9" r="1.38"/><circle cx="372.5" cy="28.7" r="1.38"/><circle cx="304.6" cy="69.6" r="1.38"/><circle cx="333.4" cy="110.1" r="1.38"/><circle cx="355.5" cy="116.3" r="1.38"/><circle cx="337.6" cy="164.9" r="1.38"/><circle cx="248.8" cy="90.1" r="1.38"/><circle cx="295.7" cy="117.2" r="1.38"/><circle cx="270.0" cy="163.8" r="1.38"/><circle cx="294.8" cy="129.1" r="1.38"/><circle cx="251.2" cy="48.8" r="1.38"/><circle cx="275.0" cy="138.8" r="1.38"/><circle cx="341.8" cy="133.9" r="1.38"/><circle cx="256.3" cy="91.0" r="1.38"/><circle cx="241.7" cy="145.6" r="1.38"/><circle cx="371.7" cy="150.6" r="1.38"/><circle cx="314.2" cy="41.0" r="1.38"/><circle cx="256.9" cy="104.8" r="1.38"/><circle cx="280.7" cy="134.1" r="1.38"/><circle cx="303.8" cy="144.3" r="1.38"/><circle cx="325.2" cy="146.2" r="1.38"/><circle cx="261.0" cy="139.8" r="1.38"/><circle cx="342.3" cy="125.1" r="1.38"/><circle cx="358.2" cy="31.9" r="1.38"/><circle cx="297.8" cy="36.4" r="1.38"/><circle cx="276.0" cy="41.1" r="1.38"/><circle cx="285.5" cy="93.8" r="1.38"/><circle cx="331.1" cy="149.4" r="1.38"/><circle cx="372.0" cy="104.8" r="1.38"/><circle cx="309.6" cy="151.8" r="1.38"/><circle cx="294.7" cy="67.3" r="1.38"/><circle cx="343.0" cy="61.6" r="1.38"/><circle cx="291.0" cy="85.5" r="1.38"/><circle cx="306.3" cy="75.6" r="1.38"/><circle cx="356.5" cy="34.1" r="1.38"/><circle cx="313.4" cy="102.0" r="1.38"/><circle cx="295.5" cy="56.6" r="1.38"/><circle cx="307.3" cy="57.7" r="1.38"/><circle cx="344.4" cy="93.6" r="1.38"/><circle cx="240.8" cy="82.3" r="1.38"/><circle cx="374.8" cy="26.5" r="1.38"/><circle cx="322.6" cy="159.7" r="1.38"/><circle cx="290.7" cy="109.0" r="1.38"/><circle cx="291.1" cy="67.6" r="1.38"/><circle cx="324.8" cy="107.8" r="1.38"/><circle cx="283.6" cy="95.0" r="1.38"/><circle cx="311.8" cy="130.8" r="1.38"/><circle cx="277.3" cy="136.7" r="1.38"/><circle cx="279.5" cy="120.5" r="1.38"/><circle cx="349.9" cy="115.2" r="1.38"/><circle cx="327.0" cy="102.6" r="1.38"/><circle cx="369.3" cy="114.7" r="1.38"/><circle cx="320.7" cy="26.3" r="1.38"/><circle cx="342.7" cy="83.9" r="1.38"/><circle cx="334.7" cy="162.9" r="1.38"/><circle cx="367.8" cy="36.0" r="1.38"/><circle cx="348.9" cy="87.0" r="1.38"/><circle cx="344.7" cy="78.3" r="1.38"/><circle cx="284.3" cy="128.1" r="1.38"/><circle cx="332.8" cy="102.1" r="1.38"/><circle cx="373.0" cy="103.8" r="1.38"/><circle cx="368.6" cy="55.0" r="1.38"/><circle cx="256.8" cy="147.6" r="1.38"/><circle cx="292.4" cy="119.7" r="1.38"/><circle cx="293.8" cy="134.3" r="1.38"/><circle cx="254.2" cy="129.2" r="1.38"/><circle cx="288.0" cy="48.4" r="1.38"/><circle cx="288.5" cy="108.1" r="1.38"/><circle cx="312.3" cy="79.8" r="1.38"/><circle cx="319.9" cy="143.2" r="1.38"/><circle cx="289.7" cy="107.1" r="1.38"/><circle cx="306.8" cy="162.5" r="1.38"/><circle cx="285.4" cy="122.9" r="1.38"/><circle cx="320.0" cy="61.4" r="1.38"/><circle cx="339.8" cy="86.0" r="1.38"/><circle cx="326.0" cy="103.7" r="1.38"/><circle cx="376.1" cy="152.6" r="1.38"/><circle cx="358.1" cy="30.4" r="1.38"/><circle cx="337.3" cy="104.9" r="1.38"/><circle cx="316.7" cy="72.0" r="1.38"/><circle cx="260.7" cy="158.3" r="1.38"/><circle cx="346.6" cy="138.1" r="1.38"/><circle cx="365.4" cy="154.6" r="1.38"/><circle cx="336.0" cy="76.4" r="1.38"/><circle cx="372.6" cy="125.9" r="1.38"/><circle cx="280.2" cy="145.3" r="1.38"/><circle cx="341.3" cy="62.5" r="1.38"/><circle cx="257.9" cy="93.2" r="1.38"/><circle cx="310.8" cy="147.6" r="1.38"/><circle cx="261.9" cy="145.6" r="1.38"/><circle cx="359.2" cy="110.6" r="1.38"/><circle cx="315.6" cy="128.0" r="1.38"/><circle cx="314.3" cy="117.7" r="1.38"/><circle cx="370.6" cy="76.2" r="1.38"/><circle cx="349.7" cy="58.1" r="1.38"/><circle cx="302.9" cy="77.3" r="1.38"/><circle cx="341.6" cy="157.3" r="1.38"/><circle cx="371.2" cy="117.3" r="1.38"/><circle cx="249.6" cy="151.5" r="1.38"/><circle cx="377.9" cy="68.7" r="1.38"/><circle cx="361.6" cy="34.1" r="1.38"/><circle cx="319.4" cy="162.8" r="1.38"/><circle cx="335.4" cy="145.0" r="1.38"/><circle cx="349.4" cy="98.3" r="1.38"/><circle cx="250.3" cy="99.1" r="1.38"/><circle cx="309.4" cy="53.1" r="1.38"/><circle cx="338.2" cy="83.8" r="1.38"/><circle cx="307.5" cy="36.5" r="1.38"/><circle cx="337.8" cy="156.7" r="1.38"/><circle cx="376.1" cy="158.2" r="1.38"/><circle cx="359.7" cy="156.1" r="1.38"/><circle cx="242.3" cy="93.9" r="1.38"/><circle cx="322.2" cy="121.3" r="1.38"/><circle cx="325.3" cy="111.2" r="1.38"/><circle cx="370.2" cy="37.6" r="1.38"/><circle cx="312.2" cy="159.5" r="1.38"/><circle cx="244.0" cy="41.1" r="1.38"/><circle cx="361.2" cy="159.2" r="1.38"/><circle cx="335.9" cy="98.1" r="1.38"/><circle cx="320.7" cy="131.3" r="1.38"/><circle cx="352.6" cy="25.6" r="1.38"/><circle cx="249.0" cy="136.4" r="1.38"/><circle cx="356.2" cy="82.4" r="1.38"/><circle cx="286.5" cy="73.9" r="1.38"/><circle cx="241.6" cy="133.1" r="1.38"/><circle cx="276.2" cy="107.3" r="1.38"/><circle cx="313.2" cy="72.4" r="1.38"/><circle cx="275.0" cy="92.4" r="1.38"/><circle cx="331.1" cy="61.9" r="1.38"/><circle cx="312.7" cy="61.1" r="1.38"/><circle cx="281.7" cy="71.5" r="1.38"/><circle cx="341.2" cy="119.7" r="1.38"/><circle cx="350.1" cy="100.9" r="1.38"/><circle cx="270.0" cy="83.4" r="1.38"/><circle cx="291.4" cy="75.3" r="1.38"/><circle cx="367.0" cy="163.9" r="1.38"/><circle cx="293.7" cy="44.4" r="1.38"/><circle cx="350.0" cy="134.8" r="1.38"/><circle cx="286.8" cy="135.9" r="1.38"/><circle cx="292.6" cy="65.6" r="1.38"/><circle cx="322.6" cy="129.1" r="1.38"/><circle cx="306.1" cy="139.8" r="1.38"/><circle cx="248.6" cy="153.3" r="1.38"/><circle cx="259.6" cy="54.2" r="1.38"/><circle cx="362.4" cy="159.7" r="1.38"/><circle cx="369.9" cy="73.3" r="1.38"/><circle cx="369.8" cy="45.3" r="1.38"/><circle cx="339.5" cy="157.6" r="1.38"/><circle cx="266.5" cy="44.5" r="1.38"/><circle cx="334.4" cy="148.8" r="1.38"/><circle cx="341.2" cy="158.1" r="1.38"/><circle cx="303.0" cy="77.5" r="1.38"/><circle cx="256.3" cy="63.6" r="1.38"/><circle cx="249.5" cy="51.3" r="1.38"/><circle cx="265.1" cy="42.7" r="1.38"/><circle cx="313.3" cy="101.0" r="1.38"/><circle cx="319.0" cy="132.0" r="1.38"/><circle cx="313.2" cy="157.8" r="1.38"/><circle cx="250.9" cy="56.6" r="1.38"/><circle cx="285.8" cy="104.9" r="1.38"/><circle cx="280.7" cy="136.3" r="1.38"/><circle cx="357.9" cy="90.5" r="1.38"/><circle cx="266.2" cy="157.4" r="1.38"/><circle cx="242.9" cy="132.0" r="1.38"/><circle cx="295.6" cy="32.7" r="1.38"/><circle cx="262.3" cy="49.7" r="1.38"/><circle cx="342.6" cy="55.1" r="1.38"/><circle cx="242.2" cy="56.2" r="1.38"/><circle cx="351.4" cy="95.2" r="1.38"/><circle cx="241.6" cy="68.0" r="1.38"/><circle cx="245.3" cy="61.9" r="1.38"/><circle cx="326.8" cy="69.8" r="1.38"/><circle cx="289.4" cy="149.0" r="1.38"/><circle cx="320.8" cy="83.7" r="1.38"/><circle cx="315.1" cy="89.8" r="1.38"/><circle cx="286.0" cy="153.1" r="1.38"/><circle cx="272.2" cy="156.2" r="1.38"/><circle cx="377.3" cy="65.8" r="1.38"/><circle cx="321.2" cy="47.5" r="1.38"/><circle cx="372.1" cy="65.2" r="1.38"/><circle cx="253.1" cy="121.5" r="1.38"/><circle cx="288.1" cy="103.6" r="1.38"/><circle cx="309.1" cy="154.4" r="1.38"/><circle cx="311.5" cy="78.4" r="1.38"/><circle cx="239.7" cy="94.9" r="1.38"/><circle cx="277.2" cy="105.7" r="1.38"/><circle cx="375.3" cy="64.6" r="1.38"/><circle cx="301.5" cy="37.3" r="1.38"/><circle cx="351.2" cy="61.1" r="1.38"/><circle cx="280.2" cy="143.0" r="1.38"/><circle cx="309.9" cy="73.3" r="1.38"/><circle cx="352.0" cy="162.2" r="1.38"/><circle cx="367.9" cy="121.2" r="1.38"/><circle cx="351.1" cy="124.9" r="1.38"/><circle cx="352.8" cy="137.4" r="1.38"/><circle cx="264.2" cy="139.3" r="1.38"/><circle cx="282.0" cy="59.6" r="1.38"/><circle cx="368.2" cy="28.7" r="1.38"/><circle cx="311.2" cy="73.4" r="1.38"/><circle cx="350.3" cy="110.8" r="1.38"/><circle cx="367.0" cy="155.8" r="1.38"/><circle cx="254.8" cy="162.7" r="1.38"/><circle cx="283.0" cy="51.5" r="1.38"/><circle cx="336.7" cy="131.4" r="1.38"/><circle cx="377.4" cy="112.5" r="1.38"/><circle cx="361.0" cy="132.9" r="1.38"/><circle cx="349.5" cy="147.5" r="1.38"/><circle cx="319.2" cy="157.3" r="1.38"/><circle cx="329.0" cy="94.2" r="1.38"/><circle cx="293.3" cy="74.9" r="1.38"/><circle cx="242.7" cy="48.0" r="1.38"/><circle cx="350.9" cy="57.5" r="1.38"/><circle cx="311.7" cy="69.6" r="1.38"/><circle cx="277.7" cy="51.7" r="1.38"/><circle cx="330.2" cy="121.4" r="1.38"/><circle cx="371.4" cy="71.7" r="1.38"/><circle cx="369.3" cy="152.8" r="1.38"/><circle cx="280.2" cy="158.5" r="1.38"/><circle cx="326.2" cy="160.0" r="1.38"/><circle cx="312.7" cy="93.7" r="1.38"/><circle cx="244.5" cy="146.0" r="1.38"/><circle cx="314.5" cy="91.6" r="1.38"/><circle cx="343.7" cy="60.4" r="1.38"/><circle cx="289.2" cy="99.1" r="1.38"/><circle cx="372.3" cy="114.9" r="1.38"/><circle cx="305.8" cy="159.5" r="1.38"/><circle cx="256.6" cy="86.0" r="1.38"/><circle cx="335.5" cy="132.0" r="1.38"/><circle cx="317.2" cy="115.1" r="1.38"/><circle cx="365.9" cy="60.6" r="1.38"/><circle cx="315.3" cy="164.8" r="1.38"/><circle cx="313.4" cy="52.0" r="1.38"/><circle cx="346.8" cy="33.5" r="1.38"/><circle cx="340.3" cy="127.0" r="1.38"/><circle cx="284.2" cy="132.6" r="1.38"/><circle cx="330.2" cy="124.1" r="1.38"/><circle cx="306.0" cy="158.9" r="1.38"/><circle cx="363.9" cy="33.3" r="1.38"/><circle cx="300.8" cy="43.4" r="1.38"/><circle cx="295.9" cy="116.3" r="1.38"/><circle cx="294.2" cy="91.0" r="1.38"/><circle cx="254.3" cy="158.7" r="1.38"/><circle cx="358.8" cy="93.5" r="1.38"/><circle cx="321.8" cy="69.6" r="1.38"/><circle cx="377.2" cy="42.3" r="1.38"/><circle cx="282.1" cy="56.4" r="1.38"/><circle cx="360.7" cy="96.6" r="1.38"/><circle cx="297.0" cy="81.2" r="1.38"/><circle cx="363.7" cy="61.5" r="1.38"/><circle cx="350.3" cy="124.4" r="1.38"/><circle cx="302.3" cy="76.6" r="1.38"/><circle cx="347.7" cy="89.1" r="1.38"/><circle cx="305.8" cy="148.4" r="1.38"/><circle cx="303.2" cy="78.0" r="1.38"/><circle cx="376.2" cy="135.3" r="1.38"/><circle cx="295.7" cy="119.3" r="1.38"/><circle cx="372.5" cy="117.1" r="1.38"/><circle cx="376.7" cy="73.2" r="1.38"/><circle cx="339.1" cy="27.8" r="1.38"/><circle cx="297.8" cy="132.6" r="1.38"/><circle cx="275.8" cy="111.2" r="1.38"/><circle cx="270.4" cy="81.1" r="1.38"/><circle cx="321.1" cy="140.2" r="1.38"/><circle cx="356.7" cy="80.2" r="1.38"/><circle cx="322.1" cy="125.0" r="1.38"/><circle cx="346.1" cy="129.8" r="1.38"/><circle cx="320.5" cy="60.6" r="1.38"/><circle cx="338.2" cy="103.9" r="1.38"/><circle cx="315.7" cy="163.4" r="1.38"/><circle cx="341.2" cy="158.3" r="1.38"/><circle cx="277.9" cy="104.7" r="1.38"/><circle cx="313.5" cy="94.7" r="1.38"/><circle cx="262.9" cy="112.9" r="1.38"/><circle cx="364.6" cy="118.2" r="1.38"/><circle cx="280.0" cy="138.1" r="1.38"/><circle cx="298.3" cy="45.8" r="1.38"/><circle cx="324.3" cy="89.8" r="1.38"/><circle cx="313.7" cy="164.0" r="1.38"/><circle cx="319.2" cy="158.7" r="1.38"/><circle cx="288.9" cy="131.5" r="1.38"/><circle cx="336.1" cy="141.2" r="1.38"/><circle cx="292.7" cy="63.7" r="1.38"/><circle cx="289.7" cy="100.6" r="1.38"/><circle cx="242.9" cy="77.8" r="1.38"/><circle cx="361.7" cy="155.9" r="1.38"/><circle cx="274.5" cy="50.4" r="1.38"/><circle cx="343.0" cy="62.4" r="1.38"/><circle cx="308.0" cy="122.6" r="1.38"/><circle cx="243.4" cy="139.9" r="1.38"/><circle cx="286.7" cy="148.2" r="1.38"/><circle cx="301.4" cy="139.0" r="1.38"/><circle cx="319.3" cy="110.6" r="1.38"/><circle cx="377.7" cy="56.7" r="1.38"/><circle cx="270.7" cy="112.1" r="1.38"/><circle cx="260.5" cy="160.2" r="1.38"/><circle cx="287.3" cy="87.0" r="1.38"/><circle cx="299.9" cy="141.1" r="1.38"/><circle cx="334.3" cy="49.4" r="1.38"/><circle cx="289.2" cy="124.2" r="1.38"/><circle cx="269.8" cy="148.8" r="1.38"/><circle cx="340.1" cy="32.1" r="1.38"/><circle cx="315.6" cy="107.0" r="1.38"/><circle cx="377.4" cy="109.3" r="1.38"/><circle cx="360.2" cy="34.3" r="1.38"/><circle cx="280.0" cy="103.9" r="1.38"/><circle cx="289.3" cy="75.8" r="1.38"/><circle cx="363.7" cy="130.8" r="1.38"/><circle cx="326.7" cy="117.6" r="1.38"/><circle cx="336.4" cy="95.4" r="1.38"/><circle cx="297.3" cy="80.0" r="1.38"/><circle cx="314.1" cy="135.7" r="1.38"/><circle cx="364.5" cy="56.8" r="1.38"/><circle cx="351.0" cy="112.2" r="1.38"/><circle cx="279.5" cy="52.2" r="1.38"/><circle cx="361.1" cy="142.3" r="1.38"/><circle cx="335.2" cy="122.1" r="1.38"/><circle cx="343.7" cy="89.0" r="1.38"/><circle cx="295.1" cy="102.7" r="1.38"/><circle cx="378.3" cy="153.6" r="1.38"/><circle cx="356.5" cy="35.9" r="1.38"/><circle cx="274.1" cy="161.1" r="1.38"/><circle cx="315.6" cy="97.4" r="1.38"/><circle cx="282.9" cy="145.9" r="1.38"/><circle cx="311.9" cy="163.9" r="1.38"/><circle cx="255.0" cy="104.1" r="1.38"/><circle cx="300.5" cy="132.0" r="1.38"/><circle cx="322.4" cy="106.9" r="1.38"/><circle cx="263.7" cy="90.3" r="1.38"/><circle cx="333.9" cy="55.8" r="1.38"/><circle cx="320.4" cy="113.7" r="1.38"/><circle cx="242.0" cy="56.2" r="1.38"/><circle cx="331.4" cy="55.4" r="1.38"/><circle cx="373.6" cy="103.6" r="1.38"/><circle cx="253.7" cy="114.5" r="1.38"/><circle cx="276.2" cy="139.3" r="1.38"/><circle cx="340.9" cy="131.4" r="1.38"/><circle cx="259.2" cy="53.7" r="1.38"/><circle cx="243.7" cy="48.3" r="1.38"/><circle cx="305.8" cy="159.3" r="1.38"/><circle cx="284.5" cy="61.7" r="1.38"/><circle cx="355.4" cy="51.3" r="1.38"/><circle cx="328.4" cy="111.4" r="1.38"/><circle cx="245.6" cy="104.2" r="1.38"/><circle cx="339.6" cy="51.4" r="1.38"/><circle cx="308.8" cy="160.8" r="1.38"/><circle cx="248.7" cy="51.6" r="1.38"/><circle cx="337.6" cy="162.4" r="1.38"/><circle cx="339.9" cy="94.4" r="1.38"/><circle cx="247.7" cy="94.2" r="1.38"/><circle cx="293.3" cy="99.7" r="1.38"/><circle cx="285.7" cy="46.2" r="1.38"/><circle cx="322.4" cy="153.3" r="1.38"/><circle cx="346.7" cy="104.4" r="1.38"/><circle cx="272.9" cy="52.0" r="1.38"/><circle cx="340.9" cy="36.4" r="1.38"/><circle cx="360.6" cy="30.2" r="1.38"/><circle cx="340.6" cy="32.7" r="1.38"/><circle cx="355.0" cy="46.1" r="1.38"/><circle cx="262.2" cy="30.7" r="1.38"/><circle cx="243.5" cy="148.0" r="1.38"/><circle cx="292.8" cy="37.6" r="1.38"/><circle cx="367.8" cy="30.7" r="1.38"/><circle cx="255.2" cy="53.5" r="1.38"/><circle cx="314.5" cy="78.0" r="1.38"/><circle cx="293.8" cy="91.8" r="1.38"/><circle cx="245.1" cy="111.4" r="1.38"/><circle cx="363.8" cy="107.6" r="1.38"/><circle cx="294.4" cy="101.2" r="1.38"/><circle cx="291.6" cy="124.2" r="1.38"/><circle cx="366.7" cy="31.2" r="1.38"/><circle cx="349.3" cy="123.2" r="1.38"/><circle cx="369.0" cy="51.4" r="1.38"/><circle cx="255.3" cy="162.4" r="1.38"/><circle cx="343.2" cy="146.5" r="1.38"/><circle cx="290.2" cy="110.1" r="1.38"/><circle cx="373.7" cy="150.9" r="1.38"/><circle cx="320.3" cy="149.8" r="1.38"/><circle cx="379.4" cy="142.7" r="1.38"/><circle cx="331.3" cy="159.7" r="1.38"/><circle cx="327.5" cy="64.6" r="1.38"/><circle cx="284.7" cy="110.3" r="1.38"/><circle cx="266.3" cy="88.0" r="1.38"/><circle cx="377.7" cy="62.2" r="1.38"/><circle cx="290.7" cy="122.4" r="1.38"/><circle cx="266.1" cy="144.1" r="1.38"/><circle cx="239.7" cy="25.6" r="1.38"/><circle cx="239.8" cy="71.4" r="1.38"/><circle cx="278.0" cy="164.0" r="1.38"/><circle cx="272.0" cy="92.8" r="1.38"/><circle cx="340.7" cy="145.2" r="1.38"/><circle cx="370.4" cy="84.3" r="1.38"/><circle cx="284.0" cy="81.0" r="1.38"/><circle cx="283.3" cy="129.1" r="1.38"/><circle cx="304.3" cy="121.3" r="1.38"/><circle cx="260.8" cy="134.9" r="1.38"/><circle cx="267.9" cy="111.6" r="1.38"/><circle cx="262.2" cy="30.4" r="1.38"/><circle cx="297.5" cy="51.1" r="1.38"/><circle cx="341.8" cy="105.5" r="1.38"/><circle cx="333.9" cy="160.7" r="1.38"/><circle cx="303.8" cy="140.7" r="1.38"/><circle cx="335.2" cy="102.0" r="1.38"/><circle cx="359.4" cy="77.5" r="1.38"/><circle cx="255.3" cy="115.1" r="1.38"/><circle cx="243.1" cy="57.5" r="1.38"/><circle cx="243.7" cy="48.1" r="1.38"/><circle cx="248.4" cy="99.8" r="1.38"/><circle cx="257.4" cy="109.8" r="1.38"/><circle cx="333.5" cy="127.3" r="1.38"/><circle cx="363.3" cy="102.9" r="1.38"/><circle cx="321.0" cy="146.1" r="1.38"/><circle cx="334.3" cy="161.7" r="1.38"/><circle cx="279.7" cy="133.7" r="1.38"/><circle cx="306.2" cy="62.3" r="1.38"/><circle cx="323.7" cy="96.7" r="1.38"/><circle cx="311.0" cy="33.7" r="1.38"/><circle cx="257.9" cy="110.3" r="1.38"/><circle cx="335.0" cy="163.9" r="1.38"/><circle cx="310.3" cy="137.8" r="1.38"/><circle cx="294.7" cy="154.1" r="1.38"/><circle cx="289.5" cy="165.1" r="1.38"/><circle cx="246.0" cy="81.3" r="1.38"/><circle cx="250.6" cy="120.2" r="1.38"/><circle cx="260.6" cy="46.3" r="1.38"/><circle cx="301.7" cy="66.7" r="1.38"/><circle cx="291.0" cy="149.6" r="1.38"/><circle cx="269.4" cy="27.1" r="1.38"/><circle cx="363.5" cy="93.0" r="1.38"/><circle cx="258.0" cy="44.5" r="1.38"/><circle cx="364.2" cy="130.2" r="1.38"/><circle cx="248.5" cy="119.8" r="1.38"/><circle cx="244.7" cy="116.6" r="1.38"/><circle cx="305.3" cy="151.3" r="1.38"/><circle cx="350.2" cy="54.3" r="1.38"/><circle cx="245.8" cy="109.8" r="1.38"/><circle cx="305.4" cy="67.6" r="1.38"/><circle cx="367.9" cy="54.6" r="1.38"/><circle cx="329.6" cy="35.8" r="1.38"/><circle cx="326.0" cy="70.3" r="1.38"/><circle cx="340.9" cy="151.7" r="1.38"/><circle cx="350.8" cy="31.2" r="1.38"/><circle cx="310.1" cy="45.0" r="1.38"/><circle cx="316.0" cy="158.2" r="1.38"/><circle cx="360.6" cy="60.3" r="1.38"/><circle cx="316.8" cy="69.8" r="1.38"/><circle cx="286.6" cy="84.2" r="1.38"/><circle cx="337.0" cy="127.1" r="1.38"/><circle cx="304.4" cy="42.0" r="1.38"/><circle cx="252.9" cy="49.2" r="1.38"/><circle cx="355.2" cy="94.8" r="1.38"/><circle cx="264.1" cy="161.7" r="1.38"/><circle cx="323.2" cy="111.2" r="1.38"/><circle cx="347.3" cy="110.5" r="1.38"/><circle cx="362.2" cy="161.0" r="1.38"/><circle cx="296.4" cy="116.1" r="1.38"/><circle cx="291.9" cy="82.9" r="1.38"/><circle cx="290.8" cy="115.9" r="1.38"/><circle cx="288.9" cy="74.7" r="1.38"/><circle cx="358.0" cy="137.2" r="1.38"/><circle cx="334.2" cy="143.4" r="1.38"/><circle cx="293.5" cy="115.3" r="1.38"/><circle cx="351.3" cy="154.2" r="1.38"/><circle cx="281.9" cy="78.4" r="1.38"/><circle cx="255.9" cy="45.4" r="1.38"/><circle cx="328.8" cy="150.1" r="1.38"/><circle cx="251.3" cy="61.1" r="1.38"/><circle cx="345.8" cy="57.1" r="1.38"/><circle cx="362.4" cy="74.8" r="1.38"/><circle cx="305.8" cy="53.7" r="1.38"/><circle cx="280.2" cy="84.8" r="1.38"/><circle cx="278.4" cy="127.4" r="1.38"/><circle cx="243.7" cy="114.7" r="1.38"/><circle cx="323.9" cy="27.6" r="1.38"/><circle cx="244.4" cy="84.3" r="1.38"/><circle cx="289.0" cy="161.3" r="1.38"/><circle cx="289.9" cy="154.4" r="1.38"/><circle cx="361.0" cy="105.7" r="1.38"/><circle cx="317.5" cy="39.1" r="1.38"/><circle cx="252.5" cy="82.9" r="1.38"/><circle cx="261.4" cy="164.1" r="1.38"/><circle cx="320.4" cy="150.8" r="1.38"/><circle cx="373.4" cy="131.4" r="1.38"/><circle cx="336.0" cy="105.1" r="1.38"/><circle cx="349.9" cy="140.8" r="1.38"/><circle cx="252.4" cy="45.8" r="1.38"/><circle cx="246.1" cy="47.9" r="1.38"/><circle cx="373.8" cy="68.7" r="1.38"/><circle cx="278.6" cy="134.3" r="1.38"/><circle cx="285.9" cy="143.6" r="1.38"/><circle cx="352.0" cy="25.7" r="1.38"/><circle cx="316.2" cy="38.5" r="1.38"/><circle cx="363.3" cy="35.2" r="1.38"/><circle cx="276.9" cy="132.9" r="1.38"/><circle cx="322.2" cy="118.7" r="1.38"/><circle cx="304.2" cy="61.4" r="1.38"/><circle cx="292.7" cy="47.7" r="1.38"/><circle cx="355.1" cy="162.0" r="1.38"/><circle cx="370.7" cy="54.6" r="1.38"/><circle cx="256.4" cy="48.5" r="1.38"/><circle cx="271.9" cy="151.2" r="1.38"/><circle cx="305.8" cy="43.3" r="1.38"/><circle cx="288.9" cy="59.2" r="1.38"/><circle cx="330.3" cy="126.1" r="1.38"/><circle cx="348.2" cy="86.6" r="1.38"/><circle cx="303.2" cy="121.2" r="1.38"/><circle cx="289.8" cy="30.0" r="1.38"/><circle cx="250.6" cy="85.0" r="1.38"/><circle cx="283.8" cy="77.0" r="1.38"/><circle cx="283.1" cy="44.7" r="1.38"/><circle cx="322.2" cy="142.7" r="1.38"/><circle cx="292.9" cy="50.1" r="1.38"/><circle cx="251.2" cy="51.9" r="1.38"/><circle cx="283.7" cy="132.9" r="1.38"/><circle cx="289.2" cy="91.4" r="1.38"/><circle cx="368.3" cy="109.5" r="1.38"/><circle cx="373.8" cy="156.5" r="1.38"/><circle cx="263.5" cy="164.0" r="1.38"/><circle cx="281.9" cy="87.3" r="1.38"/><circle cx="357.0" cy="120.6" r="1.38"/><circle cx="268.0" cy="150.9" r="1.38"/><circle cx="310.9" cy="32.6" r="1.38"/><circle cx="279.5" cy="66.4" r="1.38"/><circle cx="298.1" cy="157.2" r="1.38"/><circle cx="322.8" cy="140.0" r="1.38"/><circle cx="249.5" cy="59.8" r="1.38"/><circle cx="316.0" cy="81.4" r="1.38"/><circle cx="318.6" cy="66.1" r="1.38"/><circle cx="241.9" cy="119.7" r="1.38"/><circle cx="286.5" cy="94.2" r="1.38"/><circle cx="292.4" cy="63.2" r="1.38"/><circle cx="242.2" cy="148.3" r="1.38"/><circle cx="289.9" cy="87.5" r="1.38"/><circle cx="313.1" cy="28.9" r="1.38"/><circle cx="308.6" cy="73.5" r="1.38"/><circle cx="344.7" cy="95.8" r="1.38"/><circle cx="350.4" cy="142.2" r="1.38"/><circle cx="364.6" cy="126.9" r="1.38"/><circle cx="320.6" cy="98.9" r="1.38"/><circle cx="354.2" cy="145.4" r="1.38"/><circle cx="246.8" cy="130.6" r="1.38"/><circle cx="325.8" cy="109.1" r="1.38"/><circle cx="366.7" cy="32.4" r="1.38"/><circle cx="306.0" cy="77.9" r="1.38"/><circle cx="345.0" cy="93.8" r="1.38"/><circle cx="342.5" cy="68.4" r="1.38"/><circle cx="240.5" cy="56.9" r="1.38"/><circle cx="342.2" cy="148.3" r="1.38"/><circle cx="338.8" cy="127.7" r="1.38"/><circle cx="244.2" cy="92.5" r="1.38"/><circle cx="286.8" cy="40.1" r="1.38"/><circle cx="370.3" cy="42.8" r="1.38"/><circle cx="301.9" cy="63.7" r="1.38"/><circle cx="322.9" cy="156.8" r="1.38"/><circle cx="369.9" cy="152.3" r="1.38"/><circle cx="355.6" cy="57.4" r="1.38"/><circle cx="273.7" cy="89.7" r="1.38"/><circle cx="378.3" cy="69.1" r="1.38"/><circle cx="242.2" cy="38.2" r="1.38"/><circle cx="245.3" cy="58.6" r="1.38"/><circle cx="273.4" cy="135.4" r="1.38"/><circle cx="276.4" cy="39.8" r="1.38"/><circle cx="375.5" cy="125.6" r="1.38"/><circle cx="305.7" cy="129.8" r="1.38"/><circle cx="346.9" cy="96.7" r="1.38"/><circle cx="277.5" cy="98.9" r="1.38"/><circle cx="332.2" cy="70.8" r="1.38"/><circle cx="271.2" cy="159.7" r="1.38"/><circle cx="354.5" cy="104.7" r="1.38"/><circle cx="249.9" cy="127.7" r="1.38"/><circle cx="356.5" cy="142.5" r="1.38"/><circle cx="307.8" cy="150.3" r="1.38"/><circle cx="332.6" cy="122.4" r="1.38"/><circle cx="291.0" cy="114.8" r="1.38"/><circle cx="249.0" cy="151.2" r="1.38"/><circle cx="340.8" cy="137.6" r="1.38"/><circle cx="304.2" cy="54.2" r="1.38"/><circle cx="302.7" cy="120.6" r="1.38"/><circle cx="316.2" cy="40.7" r="1.38"/><circle cx="240.0" cy="81.1" r="1.38"/><circle cx="297.7" cy="122.6" r="1.38"/><circle cx="367.3" cy="120.0" r="1.38"/><circle cx="242.4" cy="146.7" r="1.38"/><circle cx="324.7" cy="127.7" r="1.38"/><circle cx="249.5" cy="118.3" r="1.38"/><circle cx="247.1" cy="120.6" r="1.38"/><circle cx="367.1" cy="118.8" r="1.38"/><circle cx="324.4" cy="138.4" r="1.38"/><circle cx="353.3" cy="163.8" r="1.38"/><circle cx="328.9" cy="146.1" r="1.38"/><circle cx="355.8" cy="112.8" r="1.38"/><circle cx="377.4" cy="108.4" r="1.38"/><circle cx="358.9" cy="133.4" r="1.38"/><circle cx="378.2" cy="90.1" r="1.38"/><circle cx="295.0" cy="27.1" r="1.38"/><circle cx="285.1" cy="74.6" r="1.38"/><circle cx="294.8" cy="42.9" r="1.38"/><circle cx="323.2" cy="84.6" r="1.38"/><circle cx="351.8" cy="72.9" r="1.38"/><circle cx="241.5" cy="67.6" r="1.38"/><circle cx="364.9" cy="66.2" r="1.38"/><circle cx="314.4" cy="34.6" r="1.38"/><circle cx="347.3" cy="123.4" r="1.38"/><circle cx="322.8" cy="146.5" r="1.38"/><circle cx="343.2" cy="33.2" r="1.38"/><circle cx="378.0" cy="133.8" r="1.38"/><circle cx="277.1" cy="162.5" r="1.38"/><circle cx="293.4" cy="35.3" r="1.38"/><circle cx="333.2" cy="61.8" r="1.38"/><circle cx="284.3" cy="118.4" r="1.38"/><circle cx="366.2" cy="163.9" r="1.38"/><circle cx="364.0" cy="154.2" r="1.38"/><circle cx="274.9" cy="140.6" r="1.38"/><circle cx="339.9" cy="99.1" r="1.38"/><circle cx="239.7" cy="136.3" r="1.38"/><circle cx="248.0" cy="149.4" r="1.38"/><circle cx="354.1" cy="94.8" r="1.38"/><circle cx="245.0" cy="99.0" r="1.38"/><circle cx="347.5" cy="76.7" r="1.38"/><circle cx="266.1" cy="25.7" r="1.38"/><circle cx="374.4" cy="130.5" r="1.38"/><circle cx="377.0" cy="107.8" r="1.38"/><circle cx="248.2" cy="48.3" r="1.38"/><circle cx="246.4" cy="111.0" r="1.38"/><circle cx="326.6" cy="159.0" r="1.38"/><circle cx="280.9" cy="58.1" r="1.38"/><circle cx="270.5" cy="46.1" r="1.38"/><circle cx="243.5" cy="94.5" r="1.38"/><circle cx="298.3" cy="76.9" r="1.38"/><circle cx="372.7" cy="69.3" r="1.38"/><circle cx="355.3" cy="99.9" r="1.38"/><circle cx="361.9" cy="32.5" r="1.38"/><circle cx="337.8" cy="58.0" r="1.38"/><circle cx="335.7" cy="141.9" r="1.38"/><circle cx="341.3" cy="59.7" r="1.38"/><circle cx="261.3" cy="160.6" r="1.38"/><circle cx="367.7" cy="154.5" r="1.38"/><circle cx="315.3" cy="32.7" r="1.38"/><circle cx="291.1" cy="152.6" r="1.38"/><circle cx="362.8" cy="74.9" r="1.38"/><circle cx="253.0" cy="100.2" r="1.38"/><circle cx="247.4" cy="87.2" r="1.38"/><circle cx="339.6" cy="157.9" r="1.38"/><circle cx="336.7" cy="56.7" r="1.38"/><circle cx="317.0" cy="38.0" r="1.38"/><circle cx="336.6" cy="83.7" r="1.38"/><circle cx="246.5" cy="42.4" r="1.38"/><circle cx="377.3" cy="49.3" r="1.38"/><circle cx="341.1" cy="157.1" r="1.38"/><circle cx="268.7" cy="26.1" r="1.38"/><circle cx="324.4" cy="92.1" r="1.38"/><circle cx="255.5" cy="115.3" r="1.38"/><circle cx="258.7" cy="44.2" r="1.38"/><circle cx="322.6" cy="115.4" r="1.38"/><circle cx="351.6" cy="141.0" r="1.38"/><circle cx="308.3" cy="29.5" r="1.38"/><circle cx="361.0" cy="120.7" r="1.38"/><circle cx="352.7" cy="93.7" r="1.38"/><circle cx="352.3" cy="55.7" r="1.38"/><circle cx="305.8" cy="163.3" r="1.38"/><circle cx="280.0" cy="85.7" r="1.38"/><circle cx="360.8" cy="160.9" r="1.38"/><circle cx="345.5" cy="148.8" r="1.38"/><circle cx="368.8" cy="63.4" r="1.38"/><circle cx="319.2" cy="34.6" r="1.38"/><circle cx="304.1" cy="36.7" r="1.38"/><circle cx="359.0" cy="89.4" r="1.38"/><circle cx="301.3" cy="33.2" r="1.38"/><circle cx="350.0" cy="105.1" r="1.38"/><circle cx="296.6" cy="45.8" r="1.38"/><circle cx="303.7" cy="34.3" r="1.38"/><circle cx="360.9" cy="102.8" r="1.38"/><circle cx="321.4" cy="115.8" r="1.38"/><circle cx="299.9" cy="143.4" r="1.38"/><circle cx="322.3" cy="61.7" r="1.38"/><circle cx="246.0" cy="103.6" r="1.38"/><circle cx="296.8" cy="155.5" r="1.38"/><circle cx="243.5" cy="138.3" r="1.38"/><circle cx="261.0" cy="27.6" r="1.38"/><circle cx="320.2" cy="59.9" r="1.38"/><circle cx="325.5" cy="152.9" r="1.38"/><circle cx="280.0" cy="131.6" r="1.38"/><circle cx="275.6" cy="147.0" r="1.38"/><circle cx="334.5" cy="150.1" r="1.38"/><circle cx="287.9" cy="158.8" r="1.38"/><circle cx="321.0" cy="61.4" r="1.38"/><circle cx="330.1" cy="68.9" r="1.38"/><circle cx="290.4" cy="155.8" r="1.38"/><circle cx="355.5" cy="142.1" r="1.38"/><circle cx="376.7" cy="109.8" r="1.38"/><circle cx="370.4" cy="112.5" r="1.38"/><circle cx="321.0" cy="70.7" r="1.38"/><circle cx="292.6" cy="105.1" r="1.38"/><circle cx="274.1" cy="115.2" r="1.38"/><circle cx="360.5" cy="126.1" r="1.38"/><circle cx="271.0" cy="29.4" r="1.38"/><circle cx="290.9" cy="86.1" r="1.38"/><circle cx="358.0" cy="101.9" r="1.38"/><circle cx="334.4" cy="103.4" r="1.38"/><circle cx="316.9" cy="58.5" r="1.38"/><circle cx="256.8" cy="86.9" r="1.38"/><circle cx="363.6" cy="157.8" r="1.38"/><circle cx="280.5" cy="105.8" r="1.38"/><circle cx="278.5" cy="53.9" r="1.38"/><circle cx="266.6" cy="36.6" r="1.38"/><circle cx="312.8" cy="49.5" r="1.38"/><circle cx="304.5" cy="121.7" r="1.38"/><circle cx="376.0" cy="111.6" r="1.38"/><circle cx="316.3" cy="132.8" r="1.38"/><circle cx="279.9" cy="77.5" r="1.38"/><circle cx="300.0" cy="128.1" r="1.38"/><circle cx="340.2" cy="51.4" r="1.38"/><circle cx="378.9" cy="112.3" r="1.38"/><circle cx="293.3" cy="37.6" r="1.38"/><circle cx="241.9" cy="108.1" r="1.38"/><circle cx="340.1" cy="111.5" r="1.38"/><circle cx="349.1" cy="86.4" r="1.38"/><circle cx="343.4" cy="109.9" r="1.38"/><circle cx="328.3" cy="102.1" r="1.38"/><circle cx="332.9" cy="103.7" r="1.38"/><circle cx="252.2" cy="119.8" r="1.38"/><circle cx="338.0" cy="85.3" r="1.38"/><circle cx="311.1" cy="75.5" r="1.38"/><circle cx="339.2" cy="49.3" r="1.38"/><circle cx="311.9" cy="164.8" r="1.38"/><circle cx="376.3" cy="152.4" r="1.38"/><circle cx="302.3" cy="114.6" r="1.38"/><circle cx="303.9" cy="48.4" r="1.38"/><circle cx="289.3" cy="87.1" r="1.38"/><circle cx="361.3" cy="41.4" r="1.38"/><circle cx="315.0" cy="91.4" r="1.38"/><circle cx="316.9" cy="136.2" r="1.38"/><circle cx="323.4" cy="70.7" r="1.38"/><circle cx="323.3" cy="63.4" r="1.38"/><circle cx="316.1" cy="146.7" r="1.38"/><circle cx="246.0" cy="116.0" r="1.38"/><circle cx="307.8" cy="65.7" r="1.38"/><circle cx="326.3" cy="91.6" r="1.38"/><circle cx="350.9" cy="137.9" r="1.38"/><circle cx="272.7" cy="162.0" r="1.38"/><circle cx="316.0" cy="72.3" r="1.38"/><circle cx="275.1" cy="125.1" r="1.38"/><circle cx="300.6" cy="121.0" r="1.38"/><circle cx="275.3" cy="145.7" r="1.38"/><circle cx="276.5" cy="147.1" r="1.38"/><circle cx="312.7" cy="102.0" r="1.38"/><circle cx="318.0" cy="158.2" r="1.38"/><circle cx="343.5" cy="38.4" r="1.38"/><circle cx="241.7" cy="32.9" r="1.38"/><circle cx="242.3" cy="48.6" r="1.38"/><circle cx="241.3" cy="33.0" r="1.38"/><circle cx="283.6" cy="94.1" r="1.38"/><circle cx="375.1" cy="116.0" r="1.38"/><circle cx="359.2" cy="108.0" r="1.38"/><circle cx="367.0" cy="119.6" r="1.38"/><circle cx="254.9" cy="154.6" r="1.38"/><circle cx="307.1" cy="53.5" r="1.38"/><circle cx="308.3" cy="138.0" r="1.38"/><circle cx="277.8" cy="107.6" r="1.38"/><circle cx="252.3" cy="59.2" r="1.38"/><circle cx="344.6" cy="164.6" r="1.38"/><circle cx="286.2" cy="164.7" r="1.38"/><circle cx="251.4" cy="115.7" r="1.38"/><circle cx="315.5" cy="52.9" r="1.38"/><circle cx="276.4" cy="132.7" r="1.38"/><circle cx="302.0" cy="46.1" r="1.38"/><circle cx="334.6" cy="164.5" r="1.38"/><circle cx="326.6" cy="87.7" r="1.38"/><circle cx="314.8" cy="123.7" r="1.38"/><circle cx="356.8" cy="135.3" r="1.38"/><circle cx="318.1" cy="65.2" r="1.38"/><circle cx="331.7" cy="154.3" r="1.38"/><circle cx="289.4" cy="80.2" r="1.38"/><circle cx="347.7" cy="26.4" r="1.38"/><circle cx="342.0" cy="60.9" r="1.38"/><circle cx="296.0" cy="60.1" r="1.38"/><circle cx="323.1" cy="85.7" r="1.38"/><circle cx="316.7" cy="40.2" r="1.38"/><circle cx="308.4" cy="60.8" r="1.38"/><circle cx="281.2" cy="157.9" r="1.38"/><circle cx="306.7" cy="128.7" r="1.38"/><circle cx="261.3" cy="113.5" r="1.38"/><circle cx="256.1" cy="56.5" r="1.38"/><circle cx="257.3" cy="29.0" r="1.38"/><circle cx="374.5" cy="76.9" r="1.38"/><circle cx="241.3" cy="128.0" r="1.38"/><circle cx="248.9" cy="58.1" r="1.38"/><circle cx="348.5" cy="132.7" r="1.38"/><circle cx="324.0" cy="98.9" r="1.38"/><circle cx="265.4" cy="35.0" r="1.38"/><circle cx="303.9" cy="114.4" r="1.38"/><circle cx="357.4" cy="99.8" r="1.38"/><circle cx="362.8" cy="163.2" r="1.38"/><circle cx="355.4" cy="133.4" r="1.38"/><circle cx="336.1" cy="102.7" r="1.38"/><circle cx="274.2" cy="111.0" r="1.38"/><circle cx="363.5" cy="70.0" r="1.38"/><circle cx="283.4" cy="88.1" r="1.38"/><circle cx="299.6" cy="113.8" r="1.38"/><circle cx="345.3" cy="132.7" r="1.38"/><circle cx="352.8" cy="126.8" r="1.38"/><circle cx="330.7" cy="69.3" r="1.38"/><circle cx="355.6" cy="83.9" r="1.38"/><circle cx="317.5" cy="98.1" r="1.38"/><circle cx="290.5" cy="27.0" r="1.38"/><circle cx="278.5" cy="92.0" r="1.38"/><circle cx="372.7" cy="44.7" r="1.38"/><circle cx="365.9" cy="161.4" r="1.38"/><circle cx="362.8" cy="35.1" r="1.38"/><circle cx="281.3" cy="156.7" r="1.38"/><circle cx="333.8" cy="140.6" r="1.38"/><circle cx="320.8" cy="107.4" r="1.38"/><circle cx="339.3" cy="84.1" r="1.38"/><circle cx="370.7" cy="126.4" r="1.38"/><circle cx="319.1" cy="147.5" r="1.38"/><circle cx="323.4" cy="159.0" r="1.38"/><circle cx="334.6" cy="32.0" r="1.38"/><circle cx="304.9" cy="54.2" r="1.38"/><circle cx="346.2" cy="113.3" r="1.38"/><circle cx="359.1" cy="102.5" r="1.38"/><circle cx="275.3" cy="91.2" r="1.38"/><circle cx="304.8" cy="74.7" r="1.38"/><circle cx="320.8" cy="46.3" r="1.38"/><circle cx="313.0" cy="128.5" r="1.38"/><circle cx="295.9" cy="151.5" r="1.38"/><circle cx="324.7" cy="117.5" r="1.38"/><circle cx="279.6" cy="151.1" r="1.38"/><circle cx="288.2" cy="143.6" r="1.38"/><circle cx="273.7" cy="158.5" r="1.38"/><circle cx="335.1" cy="50.4" r="1.38"/><circle cx="341.9" cy="47.2" r="1.38"/><circle cx="293.5" cy="78.4" r="1.38"/><circle cx="286.4" cy="76.0" r="1.38"/><circle cx="299.4" cy="161.6" r="1.38"/><circle cx="362.6" cy="124.1" r="1.38"/><circle cx="357.2" cy="153.1" r="1.38"/><circle cx="369.7" cy="83.2" r="1.38"/><circle cx="285.4" cy="112.4" r="1.38"/><circle cx="240.5" cy="130.9" r="1.38"/><circle cx="249.9" cy="84.6" r="1.38"/><circle cx="307.4" cy="143.1" r="1.38"/><circle cx="272.4" cy="111.7" r="1.38"/><circle cx="297.4" cy="159.0" r="1.38"/><circle cx="302.4" cy="63.5" r="1.38"/><circle cx="282.9" cy="159.3" r="1.38"/><circle cx="288.3" cy="59.4" r="1.38"/><circle cx="314.4" cy="119.1" r="1.38"/><circle cx="308.8" cy="122.1" r="1.38"/><circle cx="312.9" cy="131.4" r="1.38"/><circle cx="261.8" cy="38.7" r="1.38"/><circle cx="341.5" cy="36.6" r="1.38"/><circle cx="349.4" cy="96.2" r="1.38"/><circle cx="312.8" cy="77.8" r="1.38"/><circle cx="315.0" cy="47.1" r="1.38"/><circle cx="249.9" cy="156.2" r="1.38"/><circle cx="379.5" cy="101.6" r="1.38"/><circle cx="342.1" cy="109.5" r="1.38"/><circle cx="306.4" cy="49.5" r="1.38"/><circle cx="346.3" cy="92.4" r="1.38"/><circle cx="279.6" cy="134.7" r="1.38"/><circle cx="312.4" cy="66.1" r="1.38"/><circle cx="294.4" cy="25.8" r="1.38"/><circle cx="248.0" cy="30.6" r="1.38"/><circle cx="315.7" cy="157.0" r="1.38"/><circle cx="330.9" cy="73.5" r="1.38"/><circle cx="331.2" cy="54.6" r="1.38"/><circle cx="247.2" cy="59.4" r="1.38"/><circle cx="339.7" cy="48.7" r="1.38"/><circle cx="306.2" cy="164.4" r="1.38"/><circle cx="324.9" cy="128.0" r="1.38"/><circle cx="347.4" cy="160.8" r="1.38"/><circle cx="293.8" cy="80.8" r="1.38"/><circle cx="345.2" cy="29.1" r="1.38"/><circle cx="305.1" cy="63.4" r="1.38"/><circle cx="317.4" cy="127.8" r="1.38"/><circle cx="360.1" cy="96.3" r="1.38"/><circle cx="369.7" cy="111.5" r="1.38"/><circle cx="264.6" cy="53.1" r="1.38"/><circle cx="350.7" cy="97.5" r="1.38"/><circle cx="244.9" cy="111.4" r="1.38"/><circle cx="355.8" cy="116.5" r="1.38"/><circle cx="276.9" cy="51.5" r="1.38"/><circle cx="263.0" cy="31.2" r="1.38"/><circle cx="329.9" cy="118.6" r="1.38"/><circle cx="274.7" cy="158.5" r="1.38"/><circle cx="298.8" cy="89.3" r="1.38"/><circle cx="342.0" cy="130.0" r="1.38"/><circle cx="357.5" cy="123.5" r="1.38"/><circle cx="277.0" cy="36.2" r="1.38"/><circle cx="375.3" cy="152.4" r="1.38"/><circle cx="318.7" cy="37.4" r="1.38"/><circle cx="343.1" cy="116.2" r="1.38"/><circle cx="355.9" cy="131.6" r="1.38"/><circle cx="309.9" cy="161.9" r="1.38"/><circle cx="349.9" cy="107.6" r="1.38"/><circle cx="371.2" cy="63.4" r="1.38"/><circle cx="365.0" cy="148.2" r="1.38"/><circle cx="288.0" cy="29.5" r="1.38"/><circle cx="323.7" cy="112.1" r="1.38"/><circle cx="373.9" cy="103.5" r="1.38"/><circle cx="340.9" cy="131.6" r="1.38"/><circle cx="263.1" cy="118.7" r="1.38"/><circle cx="300.9" cy="55.7" r="1.38"/><circle cx="278.0" cy="76.2" r="1.38"/><circle cx="342.4" cy="102.6" r="1.38"/><circle cx="345.0" cy="142.3" r="1.38"/><circle cx="304.3" cy="67.0" r="1.38"/><circle cx="354.8" cy="54.1" r="1.38"/><circle cx="241.5" cy="88.5" r="1.38"/><circle cx="324.1" cy="101.2" r="1.38"/><circle cx="282.1" cy="56.7" r="1.38"/><circle cx="321.5" cy="119.7" r="1.38"/><circle cx="278.2" cy="110.3" r="1.38"/><circle cx="322.7" cy="128.4" r="1.38"/><circle cx="351.4" cy="99.7" r="1.38"/><circle cx="367.2" cy="163.3" r="1.38"/><circle cx="252.7" cy="116.4" r="1.38"/><circle cx="293.7" cy="154.2" r="1.38"/><circle cx="352.4" cy="99.8" r="1.38"/><circle cx="255.0" cy="147.3" r="1.38"/><circle cx="281.2" cy="26.7" r="1.38"/><circle cx="292.7" cy="133.7" r="1.38"/><circle cx="302.9" cy="160.8" r="1.38"/><circle cx="250.8" cy="91.6" r="1.38"/><circle cx="330.1" cy="28.9" r="1.38"/><circle cx="286.9" cy="120.2" r="1.38"/><circle cx="349.9" cy="157.1" r="1.38"/><circle cx="367.7" cy="99.6" r="1.38"/><circle cx="349.0" cy="114.1" r="1.38"/><circle cx="318.8" cy="49.4" r="1.38"/><circle cx="280.0" cy="158.8" r="1.38"/><circle cx="246.3" cy="131.6" r="1.38"/><circle cx="256.3" cy="39.9" r="1.38"/><circle cx="270.2" cy="108.6" r="1.38"/><circle cx="323.6" cy="139.9" r="1.38"/><circle cx="250.1" cy="84.6" r="1.38"/><circle cx="288.9" cy="155.7" r="1.38"/><circle cx="326.4" cy="53.0" r="1.38"/><circle cx="249.3" cy="44.8" r="1.38"/><circle cx="321.2" cy="69.0" r="1.38"/><circle cx="337.9" cy="32.8" r="1.38"/><circle cx="357.3" cy="88.2" r="1.38"/><circle cx="252.8" cy="152.9" r="1.38"/><circle cx="303.4" cy="159.8" r="1.38"/><circle cx="265.7" cy="50.4" r="1.38"/><circle cx="270.2" cy="109.9" r="1.38"/><circle cx="361.1" cy="138.1" r="1.38"/><circle cx="323.5" cy="111.5" r="1.38"/><circle cx="327.2" cy="102.8" r="1.38"/><circle cx="362.2" cy="159.5" r="1.38"/><circle cx="260.0" cy="160.4" r="1.38"/><circle cx="326.9" cy="26.3" r="1.38"/><circle cx="293.2" cy="75.9" r="1.38"/><circle cx="241.9" cy="88.1" r="1.38"/><circle cx="306.9" cy="57.9" r="1.38"/><circle cx="368.9" cy="149.3" r="1.38"/><circle cx="309.4" cy="137.5" r="1.38"/><circle cx="289.0" cy="130.7" r="1.38"/><circle cx="288.7" cy="49.7" r="1.38"/><circle cx="298.2" cy="41.4" r="1.38"/><circle cx="340.0" cy="60.7" r="1.38"/><circle cx="309.2" cy="138.5" r="1.38"/><circle cx="323.3" cy="152.5" r="1.38"/><circle cx="341.1" cy="122.3" r="1.38"/><circle cx="343.2" cy="122.0" r="1.38"/><circle cx="368.1" cy="108.6" r="1.38"/><circle cx="332.0" cy="102.3" r="1.38"/><circle cx="314.3" cy="157.0" r="1.38"/><circle cx="281.5" cy="52.1" r="1.38"/><circle cx="309.7" cy="69.0" r="1.38"/><circle cx="339.5" cy="114.4" r="1.38"/><circle cx="239.8" cy="54.7" r="1.38"/><circle cx="305.2" cy="41.1" r="1.38"/><circle cx="336.0" cy="161.5" r="1.38"/><circle cx="325.3" cy="96.1" r="1.38"/><circle cx="310.4" cy="163.7" r="1.38"/><circle cx="361.6" cy="86.2" r="1.38"/><circle cx="353.3" cy="118.7" r="1.38"/><circle cx="352.2" cy="164.9" r="1.38"/><circle cx="249.5" cy="55.1" r="1.38"/><circle cx="272.0" cy="139.9" r="1.38"/><circle cx="368.9" cy="57.1" r="1.38"/><circle cx="307.5" cy="149.8" r="1.38"/><circle cx="340.6" cy="107.5" r="1.38"/><circle cx="364.6" cy="154.5" r="1.38"/><circle cx="282.4" cy="152.0" r="1.38"/><circle cx="350.3" cy="161.9" r="1.38"/><circle cx="252.6" cy="113.0" r="1.38"/><circle cx="343.0" cy="159.1" r="1.38"/><circle cx="284.7" cy="46.3" r="1.38"/><circle cx="251.6" cy="121.3" r="1.38"/><circle cx="376.7" cy="75.9" r="1.38"/><circle cx="314.4" cy="138.8" r="1.38"/><circle cx="242.8" cy="147.5" r="1.38"/><circle cx="347.9" cy="128.4" r="1.38"/><circle cx="287.5" cy="94.2" r="1.38"/><circle cx="371.2" cy="34.1" r="1.38"/><circle cx="251.0" cy="114.9" r="1.38"/><circle cx="372.9" cy="46.3" r="1.38"/><circle cx="297.5" cy="72.1" r="1.38"/><circle cx="263.3" cy="35.8" r="1.38"/><circle cx="329.9" cy="158.7" r="1.38"/><circle cx="328.3" cy="153.9" r="1.38"/><circle cx="257.3" cy="111.5" r="1.38"/><circle cx="325.4" cy="153.3" r="1.38"/><circle cx="373.3" cy="44.7" r="1.38"/><circle cx="300.8" cy="37.4" r="1.38"/><circle cx="317.9" cy="56.8" r="1.38"/><circle cx="337.3" cy="75.2" r="1.38"/><circle cx="240.6" cy="149.6" r="1.38"/><circle cx="257.2" cy="63.0" r="1.38"/><circle cx="312.3" cy="33.5" r="1.38"/><circle cx="347.6" cy="125.6" r="1.38"/><circle cx="255.9" cy="112.2" r="1.38"/><circle cx="279.0" cy="88.4" r="1.38"/><circle cx="315.7" cy="116.9" r="1.38"/><circle cx="286.4" cy="74.4" r="1.38"/><circle cx="269.2" cy="52.4" r="1.38"/><circle cx="353.4" cy="91.4" r="1.38"/><circle cx="320.9" cy="61.2" r="1.38"/><circle cx="296.8" cy="126.7" r="1.38"/><circle cx="251.3" cy="88.9" r="1.38"/><circle cx="356.3" cy="121.4" r="1.38"/><circle cx="363.8" cy="44.1" r="1.38"/><circle cx="356.3" cy="142.1" r="1.38"/><circle cx="359.9" cy="27.9" r="1.38"/><circle cx="240.4" cy="74.4" r="1.38"/><circle cx="257.4" cy="147.6" r="1.38"/><circle cx="358.3" cy="41.2" r="1.38"/><circle cx="301.0" cy="56.3" r="1.38"/><circle cx="274.0" cy="164.4" r="1.38"/><circle cx="339.5" cy="128.4" r="1.38"/><circle cx="289.2" cy="162.1" r="1.38"/><circle cx="374.6" cy="114.3" r="1.38"/><circle cx="307.6" cy="146.0" r="1.38"/><circle cx="379.3" cy="139.6" r="1.38"/><circle cx="273.4" cy="163.1" r="1.38"/><circle cx="373.7" cy="136.7" r="1.38"/><circle cx="343.2" cy="118.0" r="1.38"/><circle cx="347.5" cy="100.9" r="1.38"/><circle cx="288.4" cy="70.3" r="1.38"/><circle cx="246.1" cy="81.5" r="1.38"/><circle cx="306.6" cy="34.1" r="1.38"/><circle cx="276.3" cy="133.4" r="1.38"/><circle cx="317.4" cy="129.5" r="1.38"/><circle cx="296.5" cy="164.0" r="1.38"/><circle cx="367.6" cy="101.6" r="1.38"/><circle cx="263.7" cy="139.3" r="1.38"/><circle cx="363.2" cy="43.7" r="1.38"/><circle cx="363.0" cy="159.5" r="1.38"/><circle cx="289.3" cy="135.9" r="1.38"/><circle cx="340.3" cy="104.7" r="1.38"/><circle cx="293.7" cy="69.2" r="1.38"/><circle cx="353.7" cy="134.8" r="1.38"/><circle cx="371.9" cy="35.0" r="1.38"/><circle cx="319.3" cy="124.1" r="1.38"/><circle cx="270.0" cy="28.4" r="1.38"/><circle cx="364.6" cy="134.6" r="1.38"/><circle cx="338.5" cy="90.2" r="1.38"/><circle cx="372.9" cy="113.7" r="1.38"/><circle cx="280.4" cy="95.1" r="1.38"/><circle cx="345.1" cy="164.0" r="1.38"/><circle cx="366.9" cy="144.6" r="1.38"/><circle cx="342.2" cy="128.5" r="1.38"/><circle cx="252.2" cy="82.4" r="1.38"/><circle cx="308.0" cy="40.2" r="1.38"/><circle cx="365.7" cy="77.6" r="1.38"/><circle cx="286.6" cy="158.0" r="1.38"/><circle cx="246.3" cy="121.6" r="1.38"/><circle cx="325.2" cy="94.6" r="1.38"/><circle cx="310.4" cy="82.9" r="1.38"/><circle cx="247.3" cy="57.8" r="1.38"/><circle cx="300.0" cy="66.9" r="1.38"/><circle cx="289.2" cy="112.5" r="1.38"/><circle cx="325.1" cy="90.3" r="1.38"/><circle cx="244.7" cy="100.8" r="1.38"/><circle cx="277.5" cy="54.6" r="1.38"/><circle cx="326.4" cy="57.9" r="1.38"/><circle cx="363.0" cy="133.3" r="1.38"/><circle cx="322.1" cy="147.7" r="1.38"/><circle cx="285.6" cy="57.7" r="1.38"/><circle cx="328.0" cy="117.1" r="1.38"/><circle cx="327.7" cy="152.8" r="1.38"/><circle cx="239.6" cy="54.3" r="1.38"/><circle cx="253.5" cy="77.2" r="1.38"/><circle cx="305.0" cy="137.2" r="1.38"/><circle cx="280.5" cy="127.5" r="1.38"/><circle cx="323.4" cy="117.1" r="1.38"/><circle cx="243.6" cy="75.8" r="1.38"/><circle cx="292.0" cy="64.4" r="1.38"/><circle cx="379.4" cy="107.9" r="1.38"/><circle cx="337.0" cy="93.1" r="1.38"/><circle cx="280.3" cy="57.3" r="1.38"/><circle cx="310.5" cy="163.8" r="1.38"/><circle cx="348.9" cy="118.9" r="1.38"/><circle cx="343.3" cy="54.3" r="1.38"/><circle cx="311.0" cy="27.9" r="1.38"/><circle cx="312.3" cy="30.0" r="1.38"/><circle cx="255.7" cy="42.4" r="1.38"/><circle cx="287.9" cy="91.9" r="1.38"/><circle cx="270.1" cy="36.3" r="1.38"/><circle cx="256.5" cy="158.2" r="1.38"/><circle cx="377.4" cy="153.1" r="1.38"/><circle cx="258.6" cy="53.7" r="1.38"/><circle cx="362.6" cy="27.7" r="1.38"/><circle cx="260.3" cy="116.2" r="1.38"/><circle cx="374.5" cy="154.8" r="1.38"/><circle cx="370.6" cy="151.2" r="1.38"/><circle cx="375.4" cy="132.0" r="1.38"/><circle cx="349.6" cy="123.6" r="1.38"/><circle cx="298.7" cy="105.6" r="1.38"/><circle cx="319.6" cy="29.1" r="1.38"/><circle cx="302.1" cy="147.2" r="1.38"/><circle cx="338.8" cy="92.9" r="1.38"/><circle cx="370.3" cy="131.1" r="1.38"/><circle cx="270.9" cy="123.5" r="1.38"/><circle cx="358.2" cy="27.2" r="1.38"/><circle cx="366.9" cy="41.4" r="1.38"/><circle cx="279.6" cy="81.6" r="1.38"/><circle cx="350.5" cy="128.6" r="1.38"/><circle cx="378.2" cy="147.4" r="1.38"/><circle cx="313.7" cy="128.8" r="1.38"/><circle cx="354.1" cy="98.2" r="1.38"/><circle cx="334.6" cy="144.7" r="1.38"/><circle cx="356.0" cy="47.5" r="1.38"/><circle cx="243.7" cy="124.3" r="1.38"/><circle cx="353.7" cy="52.0" r="1.38"/><circle cx="358.6" cy="131.2" r="1.38"/><circle cx="262.5" cy="47.1" r="1.38"/><circle cx="366.6" cy="55.6" r="1.38"/><circle cx="356.2" cy="157.6" r="1.38"/><circle cx="256.4" cy="123.4" r="1.38"/><circle cx="316.5" cy="153.4" r="1.38"/><circle cx="358.0" cy="70.2" r="1.38"/><circle cx="244.3" cy="149.7" r="1.38"/><circle cx="242.2" cy="126.6" r="1.38"/><circle cx="372.5" cy="70.4" r="1.38"/><circle cx="357.0" cy="94.5" r="1.38"/><circle cx="351.7" cy="30.5" r="1.38"/><circle cx="293.6" cy="143.7" r="1.38"/><circle cx="346.8" cy="117.6" r="1.38"/><circle cx="249.3" cy="91.1" r="1.38"/><circle cx="336.2" cy="81.7" r="1.38"/><circle cx="312.2" cy="141.1" r="1.38"/><circle cx="334.8" cy="52.5" r="1.38"/><circle cx="258.8" cy="63.4" r="1.38"/><circle cx="293.7" cy="148.3" r="1.38"/><circle cx="337.4" cy="77.0" r="1.38"/><circle cx="343.8" cy="95.6" r="1.38"/><circle cx="319.1" cy="85.3" r="1.38"/><circle cx="334.7" cy="133.7" r="1.38"/><circle cx="374.6" cy="134.8" r="1.38"/><circle cx="359.8" cy="95.8" r="1.38"/><circle cx="296.8" cy="94.5" r="1.38"/><circle cx="296.9" cy="120.2" r="1.38"/><circle cx="274.5" cy="106.9" r="1.38"/><circle cx="304.3" cy="131.8" r="1.38"/><circle cx="374.5" cy="129.2" r="1.38"/><circle cx="326.0" cy="96.4" r="1.38"/><circle cx="255.3" cy="127.5" r="1.38"/><circle cx="276.6" cy="146.1" r="1.38"/><circle cx="316.0" cy="161.4" r="1.38"/><circle cx="242.6" cy="90.4" r="1.38"/><circle cx="284.7" cy="105.8" r="1.38"/><circle cx="330.2" cy="108.0" r="1.38"/><circle cx="301.2" cy="77.2" r="1.38"/><circle cx="344.5" cy="102.9" r="1.38"/><circle cx="277.1" cy="154.2" r="1.38"/><circle cx="325.0" cy="96.9" r="1.38"/><circle cx="280.2" cy="48.5" r="1.38"/><circle cx="301.5" cy="141.9" r="1.38"/><circle cx="317.1" cy="162.6" r="1.38"/><circle cx="351.5" cy="101.4" r="1.38"/><circle cx="322.3" cy="83.9" r="1.38"/><circle cx="356.1" cy="50.4" r="1.38"/><circle cx="365.7" cy="120.1" r="1.38"/><circle cx="289.9" cy="129.5" r="1.38"/><circle cx="298.5" cy="122.4" r="1.38"/><circle cx="310.2" cy="113.6" r="1.38"/><circle cx="364.2" cy="92.6" r="1.38"/><circle cx="293.7" cy="125.4" r="1.38"/><circle cx="278.6" cy="116.0" r="1.38"/><circle cx="278.8" cy="104.5" r="1.38"/><circle cx="360.4" cy="115.1" r="1.38"/><circle cx="299.4" cy="116.5" r="1.38"/><circle cx="268.4" cy="130.7" r="1.38"/><circle cx="248.6" cy="153.4" r="1.38"/><circle cx="270.9" cy="43.7" r="1.38"/><circle cx="324.6" cy="100.4" r="1.38"/><circle cx="314.6" cy="97.0" r="1.38"/><circle cx="338.3" cy="141.1" r="1.38"/><circle cx="250.9" cy="88.7" r="1.38"/><circle cx="334.8" cy="58.3" r="1.38"/><circle cx="373.8" cy="65.9" r="1.38"/><circle cx="274.7" cy="114.1" r="1.38"/><circle cx="290.2" cy="73.4" r="1.38"/><circle cx="257.9" cy="153.6" r="1.38"/><circle cx="370.5" cy="40.3" r="1.38"/><circle cx="285.0" cy="158.3" r="1.38"/><circle cx="272.5" cy="163.3" r="1.38"/><circle cx="291.3" cy="30.9" r="1.38"/><circle cx="292.9" cy="68.1" r="1.38"/><circle cx="343.1" cy="88.8" r="1.38"/><circle cx="282.0" cy="83.7" r="1.38"/><circle cx="297.3" cy="55.0" r="1.38"/><circle cx="359.1" cy="156.7" r="1.38"/><circle cx="255.4" cy="89.6" r="1.38"/><circle cx="332.8" cy="77.8" r="1.38"/><circle cx="371.7" cy="94.6" r="1.38"/><circle cx="356.8" cy="94.7" r="1.38"/><circle cx="359.7" cy="131.7" r="1.38"/><circle cx="297.4" cy="124.5" r="1.38"/><circle cx="311.8" cy="41.2" r="1.38"/><circle cx="365.4" cy="143.5" r="1.38"/><circle cx="309.5" cy="67.8" r="1.38"/><circle cx="310.3" cy="79.0" r="1.38"/><circle cx="316.5" cy="86.1" r="1.38"/><circle cx="345.8" cy="117.4" r="1.38"/><circle cx="278.4" cy="53.2" r="1.38"/><circle cx="310.1" cy="132.4" r="1.38"/><circle cx="377.0" cy="62.0" r="1.38"/><circle cx="280.8" cy="97.9" r="1.38"/><circle cx="240.5" cy="114.2" r="1.38"/><circle cx="244.8" cy="108.5" r="1.38"/><circle cx="321.7" cy="79.0" r="1.38"/><circle cx="289.0" cy="148.9" r="1.38"/></g>
<g fill="#d63ee0" opacity="0.75" filter="url(#soft1)"><circle cx="263.3" cy="58.3" r="1.6"/><circle cx="314.0" cy="135.3" r="1.4"/><circle cx="364.5" cy="113.6" r="1.7"/><circle cx="319.7" cy="56.0" r="1.6"/><circle cx="370.2" cy="29.1" r="1.4"/><circle cx="283.2" cy="61.9" r="1.8"/><circle cx="329.8" cy="45.4" r="1.7"/><circle cx="361.3" cy="36.0" r="1.1"/><circle cx="323.4" cy="147.7" r="1.6"/><circle cx="310.3" cy="82.7" r="1.6"/><circle cx="366.0" cy="108.9" r="1.8"/><circle cx="304.8" cy="148.0" r="1.8"/><circle cx="310.7" cy="68.3" r="1.4"/><circle cx="375.1" cy="114.6" r="1.2"/><circle cx="312.3" cy="85.5" r="1.6"/><circle cx="279.8" cy="150.9" r="1.5"/><circle cx="354.5" cy="62.6" r="1.9"/><circle cx="315.8" cy="101.7" r="1.5"/><circle cx="370.1" cy="104.1" r="1.6"/><circle cx="290.8" cy="89.7" r="1.3"/><circle cx="301.9" cy="63.1" r="1.2"/><circle cx="291.0" cy="30.7" r="1.7"/></g>
</g>
<text x="248.6" y="161.7" font-size="12.6" fill="#ff3cff"><tspan font-style="italic">w</tspan>Stri</text>
<text x="369.50" y="163.60" font-size="4.6" fill="#c8c8c8" text-anchor="middle" font-weight="normal" letter-spacing="1.2">50 μm</text>
<text x="406.00" y="9.00" font-size="12.5" fill="#000" text-anchor="start" font-weight="bold">c</text>
<line x1="427.60" y1="22.00" x2="427.60" y2="160.40" stroke="#2b2b2b" stroke-width="1"/>
<line x1="424.30" y1="160.40" x2="427.60" y2="160.40" stroke="#2b2b2b" stroke-width="1"/>
<text x="421.00" y="163.80" font-size="9.4" fill="#4d4d4d" text-anchor="end" font-weight="normal">0</text>
<line x1="424.30" y1="137.37" x2="427.60" y2="137.37" stroke="#2b2b2b" stroke-width="1"/>
<text x="421.00" y="140.77" font-size="9.4" fill="#4d4d4d" text-anchor="end" font-weight="normal">1</text>
<line x1="424.30" y1="114.34" x2="427.60" y2="114.34" stroke="#2b2b2b" stroke-width="1"/>
<text x="421.00" y="117.74" font-size="9.4" fill="#4d4d4d" text-anchor="end" font-weight="normal">2</text>
<line x1="424.30" y1="91.31" x2="427.60" y2="91.31" stroke="#2b2b2b" stroke-width="1"/>
<text x="421.00" y="94.71" font-size="9.4" fill="#4d4d4d" text-anchor="end" font-weight="normal">3</text>
<line x1="424.30" y1="68.28" x2="427.60" y2="68.28" stroke="#2b2b2b" stroke-width="1"/>
<text x="421.00" y="71.68" font-size="9.4" fill="#4d4d4d" text-anchor="end" font-weight="normal">4</text>
<line x1="424.30" y1="45.25" x2="427.60" y2="45.25" stroke="#2b2b2b" stroke-width="1"/>
<text x="421.00" y="48.65" font-size="9.4" fill="#4d4d4d" text-anchor="end" font-weight="normal">5</text>
<line x1="424.30" y1="22.22" x2="427.60" y2="22.22" stroke="#2b2b2b" stroke-width="1"/>
<text x="421.00" y="25.62" font-size="9.4" fill="#4d4d4d" text-anchor="end" font-weight="normal">6</text>
<path d="M444.50,160.40 V83.48 H469.30 V160.40" fill="none" stroke="#7F976F" stroke-width="1.25"/>
<path d="M493.50,160.40 V53.54 H518.30 V160.40" fill="none" stroke="#ED8667" stroke-width="1.25"/>
<line x1="456.90" y1="77.26" x2="456.90" y2="89.47" stroke="#849B75" stroke-width="0.95"/>
<line x1="452.40" y1="77.26" x2="461.40" y2="77.26" stroke="#849B75" stroke-width="0.95"/>
<line x1="452.40" y1="89.47" x2="461.40" y2="89.47" stroke="#849B75" stroke-width="0.95"/>
<line x1="505.90" y1="45.25" x2="505.90" y2="62.06" stroke="#EE8B6D" stroke-width="0.95"/>
<line x1="501.40" y1="45.25" x2="510.40" y2="45.25" stroke="#EE8B6D" stroke-width="0.95"/>
<line x1="501.40" y1="62.06" x2="510.40" y2="62.06" stroke="#EE8B6D" stroke-width="0.95"/>
<circle cx="456.90" cy="77.49" r="1.70" fill="none" stroke="#5B7A47" stroke-width="1.1"/>
<circle cx="456.90" cy="95.92" r="1.70" fill="none" stroke="#5B7A47" stroke-width="1.1"/>
<circle cx="505.90" cy="38.57" r="1.70" fill="none" stroke="#E8643C" stroke-width="1.1"/>
<circle cx="505.90" cy="54.92" r="1.70" fill="none" stroke="#E8643C" stroke-width="1.1"/>
<circle cx="505.90" cy="67.82" r="1.70" fill="none" stroke="#E8643C" stroke-width="1.1"/>
<line x1="424.30" y1="160.40" x2="534.90" y2="160.40" stroke="#888" stroke-width="1.3"/>
<line x1="456.90" y1="160.40" x2="456.90" y2="163.60" stroke="#2b2b2b" stroke-width="1"/>
<text x="456.90" y="174.20" font-size="10.8" fill="#222" text-anchor="middle" font-weight="normal">(3)</text>
<line x1="505.90" y1="160.40" x2="505.90" y2="163.60" stroke="#2b2b2b" stroke-width="1"/>
<text x="505.90" y="174.20" font-size="10.8" fill="#222" text-anchor="middle" font-weight="normal">(3)</text>
<text x="478.60" y="44.00" font-size="12.0" fill="#151515" text-anchor="middle" font-weight="bold">*</text>
<text transform="translate(410.20,92.00) rotate(-90)" font-size="12.8" fill="#111" text-anchor="middle">Riboflavin content (ng/ml)</text>
<text transform="translate(462.3,181.5) rotate(-45)" font-size="10.4" fill="#4d4d4d" text-anchor="end">sf9</text>
<text transform="translate(511.3,181.6) rotate(-45)" font-size="10.4" fill="#4d4d4d" text-anchor="end">sf9+wStri</text>
<text x="559.00" y="10.20" font-size="12.5" fill="#000" text-anchor="start" font-weight="bold">d</text>
<line x1="590.20" y1="20.60" x2="590.20" y2="159.90" stroke="#2b2b2b" stroke-width="1"/>
<line x1="586.90" y1="159.90" x2="590.20" y2="159.90" stroke="#2b2b2b" stroke-width="1"/>
<text x="584.10" y="163.60" font-size="10.4" fill="#4d4d4d" text-anchor="end" font-weight="normal">0.00</text>
<line x1="586.90" y1="136.80" x2="590.20" y2="136.80" stroke="#2b2b2b" stroke-width="1"/>
<text x="584.10" y="140.50" font-size="10.4" fill="#4d4d4d" text-anchor="end" font-weight="normal">0.01</text>
<line x1="586.90" y1="113.70" x2="590.20" y2="113.70" stroke="#2b2b2b" stroke-width="1"/>
<text x="584.10" y="117.40" font-size="10.4" fill="#4d4d4d" text-anchor="end" font-weight="normal">0.02</text>
<line x1="586.90" y1="90.60" x2="590.20" y2="90.60" stroke="#2b2b2b" stroke-width="1"/>
<text x="584.10" y="94.30" font-size="10.4" fill="#4d4d4d" text-anchor="end" font-weight="normal">0.03</text>
<line x1="586.90" y1="67.50" x2="590.20" y2="67.50" stroke="#2b2b2b" stroke-width="1"/>
<text x="584.10" y="71.20" font-size="10.4" fill="#4d4d4d" text-anchor="end" font-weight="normal">0.04</text>
<line x1="586.90" y1="44.40" x2="590.20" y2="44.40" stroke="#2b2b2b" stroke-width="1"/>
<text x="584.10" y="48.10" font-size="10.4" fill="#4d4d4d" text-anchor="end" font-weight="normal">0.05</text>
<line x1="586.90" y1="21.30" x2="590.20" y2="21.30" stroke="#2b2b2b" stroke-width="1"/>
<text x="584.10" y="25.00" font-size="10.4" fill="#4d4d4d" text-anchor="end" font-weight="normal">0.06</text>
<path d="M605.30,159.90 V146.27 H626.80 V159.90" fill="none" stroke="#7F976F" stroke-width="1.25"/>
<path d="M647.60,159.90 V49.94 H669.50 V159.90" fill="none" stroke="#F4B29E" stroke-width="1.5"/>
<line x1="658.50" y1="47.17" x2="658.50" y2="52.02" stroke="#EE8B6D" stroke-width="0.95"/>
<line x1="654.00" y1="47.17" x2="663.00" y2="47.17" stroke="#EE8B6D" stroke-width="0.95"/>
<line x1="654.00" y1="52.02" x2="663.00" y2="52.02" stroke="#EE8B6D" stroke-width="0.95"/>
<circle cx="616.00" cy="146.04" r="1.70" fill="none" stroke="#5B7A47" stroke-width="1.1"/>
<circle cx="658.50" cy="45.09" r="1.70" fill="none" stroke="#E8643C" stroke-width="1.1"/>
<circle cx="658.50" cy="49.71" r="1.70" fill="none" stroke="#E8643C" stroke-width="1.1"/>
<circle cx="658.50" cy="53.87" r="1.70" fill="none" stroke="#E8643C" stroke-width="1.1"/>
<line x1="586.90" y1="159.90" x2="683.90" y2="159.90" stroke="#888" stroke-width="1.3"/>
<line x1="616.10" y1="159.90" x2="616.10" y2="163.10" stroke="#2b2b2b" stroke-width="1"/>
<text x="616.10" y="173.00" font-size="10.8" fill="#222" text-anchor="middle" font-weight="normal">(3)</text>
<line x1="658.60" y1="159.90" x2="658.60" y2="163.10" stroke="#2b2b2b" stroke-width="1"/>
<text x="658.60" y="173.00" font-size="10.8" fill="#222" text-anchor="middle" font-weight="normal">(3)</text>
<text x="634.90" y="42.80" font-size="12.0" fill="#151515" text-anchor="middle" font-weight="bold">****</text>
<text transform="translate(559.80,90.10) rotate(-90)" font-size="12.8" fill="#111" text-anchor="middle">ATP content (nmol/mg)</text>
<text transform="translate(621.8,181.0) rotate(-45)" font-size="10.4" fill="#4d4d4d" text-anchor="end">sf9</text>
<text transform="translate(664.3,180.8) rotate(-45)" font-size="10.4" fill="#4d4d4d" text-anchor="end">sf9+wStri</text>
<text x="0.60" y="222.50" font-size="12.5" fill="#000" text-anchor="start" font-weight="bold">e</text>
<text x="52.50" y="248.50" font-size="13.0" fill="#111" text-anchor="middle" font-weight="normal">5th</text>
<text x="52.50" y="264.80" font-size="13.0" fill="#111" text-anchor="middle" font-weight="normal">nymph</text>
<text x="135.00" y="248.50" font-size="13.0" fill="#111" text-anchor="middle" font-weight="normal">1 day</text>
<text x="135.00" y="264.80" font-size="13.0" fill="#111" text-anchor="middle" font-weight="normal">female</text>
<text x="234.30" y="248.50" font-size="13.0" fill="#111" text-anchor="middle" font-weight="normal">3 day</text>
<text x="234.30" y="264.80" font-size="13.0" fill="#111" text-anchor="middle" font-weight="normal">female</text>
<text x="135.00" y="368.60" font-size="13.0" fill="#111" text-anchor="middle" font-weight="normal">Detect</text>
<text x="135.50" y="385.20" font-size="13.0" fill="#111" text-anchor="middle" font-weight="normal">ATP content</text>
<text x="233.50" y="368.60" font-size="13.0" fill="#111" text-anchor="middle" font-weight="normal">Observe</text>
<text x="233.50" y="385.20" font-size="13.0" fill="#111" text-anchor="middle" font-weight="normal">oocyte number</text>
<line x1="82.00" y1="314.60" x2="109.00" y2="314.60" stroke="#222" stroke-width="1"/>
<path d="M113.0,314.6 L107.4,311.9 L108.6,314.6 L107.4,317.3 Z" fill="#1a1a1a" stroke="#1a1a1a" stroke-width="0.4" stroke-linejoin="round"/>
<line x1="160.00" y1="314.60" x2="187.50" y2="314.60" stroke="#222" stroke-width="1"/>
<path d="M191.5,314.6 L185.9,311.9 L187.1,314.6 L185.9,317.3 Z" fill="#1a1a1a" stroke="#1a1a1a" stroke-width="0.4" stroke-linejoin="round"/>
<path d="M45.3,282.6 V341.8 A9.200000000000003,9.200000000000003 0 0 0 63.7,341.8 V282.6 Z" fill="#d0ddd7" stroke="#7c8684" stroke-width="0.7"/>
<path d="M61.900000000000006,283.6 V343.8 " stroke="#a8d9e3" stroke-width="2.4" fill="none"/>
<path d="M60.5,283.6 V343.8 " stroke="#8fa8aa" stroke-width="0.4" fill="none"/>
<path d="M47.5,285.6 V288.6 " stroke="#f4f8f6" stroke-width="0.8" fill="none"/>
<ellipse cx="54.5" cy="282.6" rx="9.200000000000003" ry="2.1" fill="#e9a02e" stroke="#6a6a6a" stroke-width="0.5"/>
<path d="M125.8,282.6 V342.1 A8.899999999999999,8.899999999999999 0 0 0 143.6,342.1 V282.6 Z" fill="#d0ddd7" stroke="#7c8684" stroke-width="0.7"/>
<path d="M141.79999999999998,283.6 V344.1 " stroke="#a8d9e3" stroke-width="2.4" fill="none"/>
<path d="M140.4,283.6 V344.1 " stroke="#8fa8aa" stroke-width="0.4" fill="none"/>
<path d="M128.0,285.6 V288.6 " stroke="#f4f8f6" stroke-width="0.8" fill="none"/>
<ellipse cx="134.7" cy="282.6" rx="8.899999999999999" ry="2.1" fill="#e9a02e" stroke="#6a6a6a" stroke-width="0.5"/>
<line x1="45.6" y1="308.6" x2="63.4" y2="308.6" stroke="#666" stroke-width="0.45"/>
<g transform="translate(54.4,313.5)" stroke="#555" stroke-width="0.5" fill="none" stroke-linecap="round"><path d="M-1.5,-3.5 L-5,-6.5 M1.5,-3.5 L5,-6.5 M-2,-1.5 L-6.5,-3 L-8,-0.5 M2,-1.5 L6.5,-3 L8,-0.5 M-2.2,1 L-5.5,4 L-6.5,7 M2.2,1 L5.5,4 L6.5,7"/><path d="M-2.8,-3.5 Q0,-5.5 2.8,-3.5 L3.2,1 Q0,2 -3.2,1 Z" fill="#b9bdb9"/><ellipse cx="0" cy="3.6" rx="2.6" ry="3.2" fill="#c9cdc9"/><path d="M-2,2.6 H2 M-2.2,4 H2.2 M-1.8,5.4 H1.8" stroke-width="0.35"/></g>
<g transform="translate(135.0,314.2)" stroke="#444" stroke-width="0.5" fill="none" stroke-linecap="round"><path d="M-1.2,-5.2 L-3.6,-9 L-4.6,-8.6 M1.2,-5.2 L3.6,-9 L4.6,-8.6 M-2.6,-1.5 L-6,-3.2 L-7.5,-1 M2.6,-1.5 L6,-3.2 L7.5,-1 M-2.8,1.5 L-6,3.5 L-7,6.5 M2.8,1.5 L6,3.5 L7,6.5 M-2.5,3.5 L-5,7 L-5.5,9 M2.5,3.5 L5,7 L5.5,9"/><ellipse cx="0" cy="2.2" rx="3.3" ry="4.6" fill="#c9cdca"/><path d="M-2.8,0.5 H2.8 M-3,2.2 H3 M-2.8,3.9 H2.8 M0,-2 V6.5" stroke-width="0.35"/><ellipse cx="0" cy="-3.3" rx="2.6" ry="1.9" fill="#8e928f"/><circle cx="-1.1" cy="-3.5" r="0.7" fill="#222" stroke="none"/><circle cx="1.1" cy="-3.5" r="0.7" fill="#222" stroke="none"/></g>
<path d="M 32.89,281.44 A 7.8,7.8 0 1 0 33.76,285.92 Q 34.90,284.70 36.40,282.90 Q 34.60,282.50 32.89,281.44 Z" fill="#d6ddd8" stroke="#2a2a2a" stroke-width="0.95" stroke-linejoin="miter"/>
<path d="M22.6,281.70000000000005 L29.4,288.5 M29.4,281.70000000000005 L22.6,288.5" stroke="#111" stroke-width="1.6"/>
<path d="M 32.89,305.74 A 7.8,7.8 0 1 0 33.76,310.22 Q 34.90,309.00 36.40,307.20 Q 34.60,306.80 32.89,305.74 Z" fill="#d6ddd8" stroke="#2a2a2a" stroke-width="0.95" stroke-linejoin="miter"/>
<path d="M26,306.0 C27.8,308.59999999999997 28.6,310.0 28.6,311.0 A2.6,2.6 0 0 1 23.4,311.0 C23.4,310.0 24.2,308.59999999999997 26,306.0 Z" fill="#e9a43a"/>
<path d="M 32.89,330.54 A 7.8,7.8 0 1 0 33.76,335.02 Q 34.90,333.80 36.40,332.00 Q 34.60,331.60 32.89,330.54 Z" fill="#d6ddd8" stroke="#2a2a2a" stroke-width="0.95" stroke-linejoin="miter"/>
<path d="M22.8,331.0 C24.5,333.4 25.3,334.8 25.3,335.7 A2.5,2.5 0 0 1 20.3,335.7 C20.3,334.8 21.1,333.4 22.8,331.0 Z" fill="#e9a43a"/>
<path d="M29.2,331.0 C30.9,333.4 31.7,334.8 31.7,335.7 A2.5,2.5 0 0 1 26.7,335.7 C26.7,334.8 27.5,333.4 29.2,331.0 Z" fill="#e9a43a"/>
<g transform="translate(196,290) scale(0.1139)" fill="#fff" stroke="#1a1a1a" stroke-width="5" stroke-linejoin="round"><path d="M145.2,220.2 L47.5,193.2 A9.5,9.5 0 0 1 52.5,174.8 L150.3,201.9 Z"/><ellipse cx="181.6" cy="220.4" rx="58.5" ry="23.0" transform="rotate(15.5 181.6 220.4)"/>
<path d="M143.3,244.2 L41.4,237.5 A9.5,9.5 0 0 1 42.6,218.5 L144.5,225.3 Z"/><ellipse cx="179.2" cy="237.1" rx="58.9" ry="22.0" transform="rotate(3.8 179.2 237.1)"/>
<path d="M144.3,264.7 L30.9,275.5 A9.5,9.5 0 0 1 29.1,256.5 L142.5,245.7 Z"/><ellipse cx="179.1" cy="251.8" rx="61.2" ry="23.0" transform="rotate(-5.4 179.1 251.8)"/>
<path d="M178.5,159.7 L113.7,63.6 A10.0,10.0 0 0 1 130.3,52.4 L195.1,148.5 Z"/><ellipse cx="207.2" cy="184.4" rx="62.3" ry="35.0" transform="rotate(56.0 207.2 184.4)"/>
<path d="M221.4,153.2 L203.1,41.5 A9.0,9.0 0 0 1 220.9,38.5 L239.1,150.3 Z"/><ellipse cx="235.2" cy="182.1" rx="54.6" ry="25.0" transform="rotate(80.7 235.2 182.1)"/>
<path d="M239.1,153.0 L234.0,42.4 A8.0,8.0 0 0 1 250.0,41.6 L255.1,152.2 Z"/><ellipse cx="248.5" cy="182.7" rx="53.4" ry="23.0" transform="rotate(87.3 248.5 182.7)"/>
<path d="M252.2,144.7 L256.5,35.6 A9.5,9.5 0 0 1 275.5,36.4 L271.2,145.5 Z"/><ellipse cx="260.3" cy="179.4" rx="58.6" ry="28.0" transform="rotate(92.3 260.3 179.4)"/>
<ellipse cx="294" cy="182" rx="33" ry="60" transform="rotate(-4 294 182)"/>
<path d="M228,244 C224,300 280,336 330,332 L340,332 L340,312 C305,305 272,285 264,250 Z"/>
<path d="M226,246 l16,-14 l22,8 l-4,16 z" fill="#2a2a2a" stroke-width="4"/><g transform="translate(680,0) scale(-1,1)"><path d="M145.2,220.2 L47.5,193.2 A9.5,9.5 0 0 1 52.5,174.8 L150.3,201.9 Z"/><ellipse cx="181.6" cy="220.4" rx="58.5" ry="23.0" transform="rotate(15.5 181.6 220.4)"/>
<path d="M143.3,244.2 L41.4,237.5 A9.5,9.5 0 0 1 42.6,218.5 L144.5,225.3 Z"/><ellipse cx="179.2" cy="237.1" rx="58.9" ry="22.0" transform="rotate(3.8 179.2 237.1)"/>
<path d="M144.3,264.7 L30.9,275.5 A9.5,9.5 0 0 1 29.1,256.5 L142.5,245.7 Z"/><ellipse cx="179.1" cy="251.8" rx="61.2" ry="23.0" transform="rotate(-5.4 179.1 251.8)"/>
<path d="M178.5,159.7 L113.7,63.6 A10.0,10.0 0 0 1 130.3,52.4 L195.1,148.5 Z"/><ellipse cx="207.2" cy="184.4" rx="62.3" ry="35.0" transform="rotate(56.0 207.2 184.4)"/>
<path d="M221.4,153.2 L203.1,41.5 A9.0,9.0 0 0 1 220.9,38.5 L239.1,150.3 Z"/><ellipse cx="235.2" cy="182.1" rx="54.6" ry="25.0" transform="rotate(80.7 235.2 182.1)"/>
<path d="M239.1,153.0 L234.0,42.4 A8.0,8.0 0 0 1 250.0,41.6 L255.1,152.2 Z"/><ellipse cx="248.5" cy="182.7" rx="53.4" ry="23.0" transform="rotate(87.3 248.5 182.7)"/>
<path d="M252.2,144.7 L256.5,35.6 A9.5,9.5 0 0 1 275.5,36.4 L271.2,145.5 Z"/><ellipse cx="260.3" cy="179.4" rx="58.6" ry="28.0" transform="rotate(92.3 260.3 179.4)"/>
<ellipse cx="294" cy="182" rx="33" ry="60" transform="rotate(-4 294 182)"/>
<path d="M228,244 C224,300 280,336 330,332 L340,332 L340,312 C305,305 272,285 264,250 Z"/>
<path d="M226,246 l16,-14 l22,8 l-4,16 z" fill="#2a2a2a" stroke-width="4"/></g><path d="M330,320 V372 C318,372 306,374 306,384 L384,386 C380,376 364,372 350,372 V320 Z"/><path d="M318,318 C330,326 350,326 362,318" fill="none"/></g>
<text x="323.90" y="222.20" font-size="12.5" fill="#000" text-anchor="start" font-weight="bold">f</text>
<line x1="347.50" y1="251.00" x2="347.50" y2="355.20" stroke="#2b2b2b" stroke-width="1"/>
<line x1="344.20" y1="350.80" x2="347.50" y2="350.80" stroke="#2b2b2b" stroke-width="1"/>
<text x="341.40" y="354.50" font-size="10.4" fill="#4d4d4d" text-anchor="end" font-weight="normal">0.00</text>
<line x1="344.20" y1="326.80" x2="347.50" y2="326.80" stroke="#2b2b2b" stroke-width="1"/>
<text x="341.40" y="330.50" font-size="10.4" fill="#4d4d4d" text-anchor="end" font-weight="normal">0.25</text>
<line x1="344.20" y1="302.80" x2="347.50" y2="302.80" stroke="#2b2b2b" stroke-width="1"/>
<text x="341.40" y="306.50" font-size="10.4" fill="#4d4d4d" text-anchor="end" font-weight="normal">0.50</text>
<line x1="344.20" y1="278.80" x2="347.50" y2="278.80" stroke="#2b2b2b" stroke-width="1"/>
<text x="341.40" y="282.50" font-size="10.4" fill="#4d4d4d" text-anchor="end" font-weight="normal">0.75</text>
<line x1="344.20" y1="254.80" x2="347.50" y2="254.80" stroke="#2b2b2b" stroke-width="1"/>
<text x="341.40" y="258.50" font-size="10.4" fill="#4d4d4d" text-anchor="end" font-weight="normal">1.00</text>
<rect x="354.00" y="254.80" width="27.80" height="29.28" fill="#8DC891" stroke="#6fb577" stroke-width="0.5"/>
<rect x="354.00" y="284.08" width="27.80" height="66.72" fill="#A3A3A1" stroke="#8e8e8c" stroke-width="0.5"/>
<text x="367.90" y="344.50" font-size="10.1" fill="#222" text-anchor="middle" font-weight="normal">39</text>
<rect x="388.10" y="254.80" width="27.80" height="42.72" fill="#8DC891" stroke="#6fb577" stroke-width="0.5"/>
<rect x="388.10" y="297.52" width="27.80" height="53.28" fill="#A3A3A1" stroke="#8e8e8c" stroke-width="0.5"/>
<text x="402.00" y="344.50" font-size="10.1" fill="#222" text-anchor="middle" font-weight="normal">38</text>
<rect x="422.50" y="254.80" width="27.80" height="57.60" fill="#8DC891" stroke="#6fb577" stroke-width="0.5"/>
<rect x="422.50" y="312.40" width="27.80" height="38.40" fill="#A3A3A1" stroke="#8e8e8c" stroke-width="0.5"/>
<text x="436.40" y="344.50" font-size="10.1" fill="#222" text-anchor="middle" font-weight="normal">43</text>
<line x1="347.50" y1="355.20" x2="457.00" y2="355.20" stroke="#666" stroke-width="1.2"/>
<line x1="367.90" y1="355.20" x2="367.90" y2="358.20" stroke="#2b2b2b" stroke-width="1"/>
<text x="367.90" y="368.60" font-size="10.6" fill="#4d4d4d" text-anchor="middle" font-weight="normal">–rib</text>
<line x1="402.00" y1="355.20" x2="402.00" y2="358.20" stroke="#2b2b2b" stroke-width="1"/>
<text x="402.00" y="368.60" font-size="10.6" fill="#4d4d4d" text-anchor="middle" font-weight="normal">1*rib</text>
<line x1="436.40" y1="355.20" x2="436.40" y2="358.20" stroke="#2b2b2b" stroke-width="1"/>
<text x="436.40" y="368.60" font-size="10.6" fill="#4d4d4d" text-anchor="middle" font-weight="normal">2*rib</text>
<line x1="355.00" y1="233.00" x2="451.00" y2="233.00" stroke="#777" stroke-width="1.2"/>
<line x1="355.00" y1="247.10" x2="418.00" y2="247.10" stroke="#555" stroke-width="1.2"/>
<text x="384.40" y="243.60" font-size="13.4" fill="#111" text-anchor="middle" font-weight="normal">ns</text>
<text x="405.60" y="231.60" font-size="12.0" fill="#151515" text-anchor="middle" font-weight="bold">*</text>
<text transform="translate(314.50,303.50) rotate(-90)" font-size="12.8" fill="#111" text-anchor="middle">Emergence rate</text>
<rect x="323.80" y="375.70" width="9.40" height="8.80" fill="#8DC891" stroke="#5fb566" stroke-width="1.3"/>
<text x="340.00" y="381.60" font-size="10.6" fill="#222" text-anchor="start" font-weight="normal">emerge</text>
<rect x="387.10" y="375.70" width="9.20" height="8.80" fill="#A3A3A1" stroke="#8a8a88" stroke-width="1.3"/>
<text x="403.40" y="381.60" font-size="10.35" fill="#222" text-anchor="start" font-weight="normal">fail to emerge</text>
<text x="490.00" y="220.90" font-size="12.5" fill="#000" text-anchor="start" font-weight="bold">g</text>
<line x1="537.50" y1="236.00" x2="537.50" y2="360.90" stroke="#2b2b2b" stroke-width="1"/>
<line x1="534.20" y1="360.90" x2="537.50" y2="360.90" stroke="#2b2b2b" stroke-width="1"/>
<text x="531.40" y="364.60" font-size="10.4" fill="#4d4d4d" text-anchor="end" font-weight="normal">0</text>
<line x1="534.20" y1="325.10" x2="537.50" y2="325.10" stroke="#2b2b2b" stroke-width="1"/>
<text x="531.40" y="328.80" font-size="10.4" fill="#4d4d4d" text-anchor="end" font-weight="normal">2</text>
<line x1="534.20" y1="289.30" x2="537.50" y2="289.30" stroke="#2b2b2b" stroke-width="1"/>
<text x="531.40" y="293.00" font-size="10.4" fill="#4d4d4d" text-anchor="end" font-weight="normal">4</text>
<line x1="534.20" y1="253.50" x2="537.50" y2="253.50" stroke="#2b2b2b" stroke-width="1"/>
<text x="531.40" y="257.20" font-size="10.4" fill="#4d4d4d" text-anchor="end" font-weight="normal">6</text>
<path d="M550.40,360.90 V351.77 H571.00 V360.90" fill="none" stroke="#F4AF8F" stroke-width="1.45"/>
<line x1="560.70" y1="350.52" x2="560.70" y2="352.84" stroke="#F3A784" stroke-width="0.95"/>
<line x1="556.90" y1="350.52" x2="564.50" y2="350.52" stroke="#F3A784" stroke-width="0.95"/>
<line x1="556.90" y1="352.84" x2="564.50" y2="352.84" stroke="#F3A784" stroke-width="0.95"/>
<circle cx="560.70" cy="350.16" r="1.70" fill="none" stroke="#EF8A5B" stroke-width="1.1"/>
<circle cx="560.70" cy="351.95" r="1.70" fill="none" stroke="#EF8A5B" stroke-width="1.1"/>
<circle cx="560.70" cy="352.84" r="1.70" fill="none" stroke="#EF8A5B" stroke-width="1.1"/>
<line x1="560.70" y1="360.90" x2="560.70" y2="364.10" stroke="#2b2b2b" stroke-width="1"/>
<path d="M589.40,360.90 V338.17 H609.50 V360.90" fill="none" stroke="#ED9A7A" stroke-width="1.45"/>
<line x1="599.45" y1="332.98" x2="599.45" y2="342.46" stroke="#EC8F6D" stroke-width="0.95"/>
<line x1="595.65" y1="332.98" x2="603.25" y2="332.98" stroke="#EC8F6D" stroke-width="0.95"/>
<line x1="595.65" y1="342.46" x2="603.25" y2="342.46" stroke="#EC8F6D" stroke-width="0.95"/>
<circle cx="599.45" cy="331.01" r="1.70" fill="none" stroke="#E56A3C" stroke-width="1.1"/>
<circle cx="599.45" cy="336.20" r="1.70" fill="none" stroke="#E56A3C" stroke-width="1.1"/>
<circle cx="599.45" cy="346.94" r="1.70" fill="none" stroke="#E56A3C" stroke-width="1.1"/>
<line x1="599.45" y1="360.90" x2="599.45" y2="364.10" stroke="#2b2b2b" stroke-width="1"/>
<path d="M628.30,360.90 V283.75 H648.50 V360.90" fill="none" stroke="#CF8F79" stroke-width="1.45"/>
<line x1="638.40" y1="268.71" x2="638.40" y2="298.61" stroke="#CA836B" stroke-width="0.95"/>
<line x1="634.60" y1="268.71" x2="642.20" y2="268.71" stroke="#CA836B" stroke-width="0.95"/>
<line x1="634.60" y1="298.61" x2="642.20" y2="298.61" stroke="#CA836B" stroke-width="0.95"/>
<circle cx="638.40" cy="255.29" r="1.70" fill="none" stroke="#B85A3A" stroke-width="1.1"/>
<circle cx="638.40" cy="289.30" r="1.70" fill="none" stroke="#B85A3A" stroke-width="1.1"/>
<circle cx="638.40" cy="306.84" r="1.70" fill="none" stroke="#B85A3A" stroke-width="1.1"/>
<line x1="638.40" y1="360.90" x2="638.40" y2="364.10" stroke="#2b2b2b" stroke-width="1"/>
<line x1="534.20" y1="360.90" x2="661.90" y2="360.90" stroke="#7a7a7a" stroke-width="1.3"/>
<text x="560.50" y="373.80" font-size="9.9" fill="#222" text-anchor="middle" font-weight="normal">(3)</text>
<text x="560.50" y="385.00" font-size="10.2" fill="#4d4d4d" text-anchor="middle" font-weight="normal">–rib</text>
<text x="599.40" y="373.80" font-size="9.9" fill="#222" text-anchor="middle" font-weight="normal">(3)</text>
<text x="599.40" y="385.00" font-size="10.2" fill="#4d4d4d" text-anchor="middle" font-weight="normal">1*rib</text>
<text x="638.30" y="373.80" font-size="9.9" fill="#222" text-anchor="middle" font-weight="normal">(3)</text>
<text x="638.30" y="385.00" font-size="10.2" fill="#4d4d4d" text-anchor="middle" font-weight="normal">2*rib</text>
<line x1="562.30" y1="250.30" x2="636.80" y2="250.30" stroke="#555" stroke-width="1.1"/>
<line x1="562.30" y1="276.80" x2="600.00" y2="276.80" stroke="#666" stroke-width="1.8"/>
<text x="598.10" y="246.30" font-size="12.0" fill="#151515" text-anchor="middle" font-weight="bold">*</text>
<text x="579.40" y="272.70" font-size="12.0" fill="#151515" text-anchor="middle" font-weight="bold">*</text>
<text transform="translate(519.60,298.40) rotate(-90)" font-size="12.8" fill="#111" text-anchor="middle">ATP content (nmol/mg)</text>
<text x="0.60" y="417.40" font-size="12.5" fill="#000" text-anchor="start" font-weight="bold">h</text>
<line x1="45.40" y1="437.50" x2="45.40" y2="559.40" stroke="#2b2b2b" stroke-width="1"/>
<line x1="42.10" y1="559.40" x2="45.40" y2="559.40" stroke="#2b2b2b" stroke-width="1"/>
<text x="40.00" y="563.10" font-size="10.4" fill="#4d4d4d" text-anchor="end" font-weight="normal">0</text>
<line x1="42.10" y1="533.93" x2="45.40" y2="533.93" stroke="#2b2b2b" stroke-width="1"/>
<text x="40.00" y="537.63" font-size="10.4" fill="#4d4d4d" text-anchor="end" font-weight="normal">5</text>
<line x1="42.10" y1="508.47" x2="45.40" y2="508.47" stroke="#2b2b2b" stroke-width="1"/>
<text x="40.00" y="512.17" font-size="10.4" fill="#4d4d4d" text-anchor="end" font-weight="normal">10</text>
<line x1="42.10" y1="483.00" x2="45.40" y2="483.00" stroke="#2b2b2b" stroke-width="1"/>
<text x="40.00" y="486.70" font-size="10.4" fill="#4d4d4d" text-anchor="end" font-weight="normal">15</text>
<line x1="42.10" y1="457.54" x2="45.40" y2="457.54" stroke="#2b2b2b" stroke-width="1"/>
<text x="40.00" y="461.24" font-size="10.4" fill="#4d4d4d" text-anchor="end" font-weight="normal">20</text>
<path d="M58.30,559.40 V552.27 H77.00 V559.40" fill="none" stroke="#F5AF91" stroke-width="1.45"/>
<line x1="67.65" y1="547.69" x2="67.65" y2="557.87" stroke="#F4A786" stroke-width="0.95"/>
<line x1="63.85" y1="547.69" x2="71.45" y2="547.69" stroke="#F4A786" stroke-width="0.95"/>
<line x1="63.85" y1="557.87" x2="71.45" y2="557.87" stroke="#F4A786" stroke-width="0.95"/>
<circle cx="67.65" cy="528.84" r="1.70" fill="none" stroke="#F08A5D" stroke-width="1.1"/>
<circle cx="67.65" cy="549.21" r="1.70" fill="none" stroke="#F08A5D" stroke-width="1.1"/>
<circle cx="67.65" cy="559.40" r="1.70" fill="none" stroke="#F08A5D" stroke-width="1.1"/>
<line x1="67.65" y1="559.40" x2="67.65" y2="562.60" stroke="#2b2b2b" stroke-width="1"/>
<path d="M94.90,559.40 V532.41 H114.90 V559.40" fill="none" stroke="#EB9E7C" stroke-width="1.45"/>
<line x1="104.90" y1="524.26" x2="104.90" y2="539.28" stroke="#E9946E" stroke-width="0.95"/>
<line x1="101.10" y1="524.26" x2="108.70" y2="524.26" stroke="#E9946E" stroke-width="0.95"/>
<line x1="101.10" y1="539.28" x2="108.70" y2="539.28" stroke="#E9946E" stroke-width="0.95"/>
<circle cx="104.90" cy="488.10" r="1.70" fill="none" stroke="#E2703E" stroke-width="1.1"/>
<circle cx="104.90" cy="508.47" r="1.70" fill="none" stroke="#E2703E" stroke-width="1.1"/>
<circle cx="104.90" cy="528.84" r="1.70" fill="none" stroke="#E2703E" stroke-width="1.1"/>
<circle cx="104.90" cy="539.03" r="1.70" fill="none" stroke="#E2703E" stroke-width="1.1"/>
<circle cx="104.90" cy="549.21" r="1.70" fill="none" stroke="#E2703E" stroke-width="1.1"/>
<circle cx="104.90" cy="559.40" r="1.70" fill="none" stroke="#E2703E" stroke-width="1.1"/>
<line x1="104.90" y1="559.40" x2="104.90" y2="562.60" stroke="#2b2b2b" stroke-width="1"/>
<path d="M132.40,559.40 V524.26 H152.20 V559.40" fill="none" stroke="#CC8B72" stroke-width="1.45"/>
<line x1="142.30" y1="516.62" x2="142.30" y2="531.90" stroke="#C78063" stroke-width="0.95"/>
<line x1="138.50" y1="516.62" x2="146.10" y2="516.62" stroke="#C78063" stroke-width="0.95"/>
<line x1="138.50" y1="531.90" x2="146.10" y2="531.90" stroke="#C78063" stroke-width="0.95"/>
<circle cx="142.30" cy="447.35" r="1.70" fill="none" stroke="#B4552F" stroke-width="1.1"/>
<circle cx="142.30" cy="467.73" r="1.70" fill="none" stroke="#B4552F" stroke-width="1.1"/>
<circle cx="142.30" cy="477.91" r="1.70" fill="none" stroke="#B4552F" stroke-width="1.1"/>
<circle cx="142.30" cy="488.10" r="1.70" fill="none" stroke="#B4552F" stroke-width="1.1"/>
<circle cx="142.30" cy="498.28" r="1.70" fill="none" stroke="#B4552F" stroke-width="1.1"/>
<circle cx="142.30" cy="508.47" r="1.70" fill="none" stroke="#B4552F" stroke-width="1.1"/>
<circle cx="142.30" cy="518.66" r="1.70" fill="none" stroke="#B4552F" stroke-width="1.1"/>
<circle cx="142.30" cy="528.84" r="1.70" fill="none" stroke="#B4552F" stroke-width="1.1"/>
<circle cx="142.30" cy="539.03" r="1.70" fill="none" stroke="#B4552F" stroke-width="1.1"/>
<circle cx="142.30" cy="544.12" r="1.70" fill="none" stroke="#B4552F" stroke-width="1.1"/>
<circle cx="142.30" cy="549.21" r="1.70" fill="none" stroke="#B4552F" stroke-width="1.1"/>
<circle cx="142.30" cy="559.40" r="1.70" fill="none" stroke="#B4552F" stroke-width="1.1"/>
<circle cx="142.30" cy="523.75" r="1.70" fill="none" stroke="#B4552F" stroke-width="1.1"/>
<line x1="142.30" y1="559.40" x2="142.30" y2="562.60" stroke="#2b2b2b" stroke-width="1"/>
<line x1="42.10" y1="559.40" x2="164.10" y2="559.40" stroke="#2b2b2b" stroke-width="1.05"/>
<text x="67.70" y="571.60" font-size="10.2" fill="#222" text-anchor="middle" font-weight="normal">(6)</text>
<text x="67.70" y="582.60" font-size="10.6" fill="#4d4d4d" text-anchor="middle" font-weight="normal">–rib</text>
<text x="104.90" y="571.60" font-size="10.2" fill="#222" text-anchor="middle" font-weight="normal">(12)</text>
<text x="104.90" y="582.60" font-size="10.6" fill="#4d4d4d" text-anchor="middle" font-weight="normal">1*rib</text>
<text x="141.90" y="571.60" font-size="10.2" fill="#222" text-anchor="middle" font-weight="normal">(21)</text>
<text x="141.90" y="582.60" font-size="10.6" fill="#4d4d4d" text-anchor="middle" font-weight="normal">2*rib</text>
<line x1="67.00" y1="455.30" x2="141.50" y2="455.30" stroke="#555" stroke-width="1.1"/>
<line x1="67.00" y1="481.80" x2="104.60" y2="481.80" stroke="#666" stroke-width="1.8"/>
<text x="102.70" y="452.10" font-size="12.0" fill="#151515" text-anchor="middle" font-weight="bold">*</text>
<text x="84.30" y="478.50" font-size="13.4" fill="#111" text-anchor="middle" font-weight="normal">ns</text>
<text transform="translate(21.80,498.20) rotate(-90)" font-size="12.8" fill="#111" text-anchor="middle">Mature oocyte number</text>
<text x="188.80" y="415.00" font-size="12.5" fill="#000" text-anchor="start" font-weight="bold">i</text>
<g transform="translate(190.10,438.10)">
<rect x="0" y="0" width="109.80" height="109.40" fill="#080808"/>
<g filter="url(#blur3)">
<ellipse cx="62" cy="36" rx="20" ry="16" fill="#2c2d2a"/>
<ellipse cx="36" cy="55" rx="26" ry="12" fill="#1c1d1b"/>
<ellipse cx="60" cy="60" rx="10" ry="14" fill="#262624"/>
</g><g filter="url(#soft)">
<path d="M59.4,16 Q67,10.5 75.5,16" stroke="#484e4f" stroke-width="2.2" fill="none" stroke-linecap="round"/>
<path d="M58,21 Q67,17.5 77,24" stroke="#484e4f" stroke-width="2.0" fill="none" stroke-linecap="round"/>
<path d="M62,25 Q66,35 64,44" stroke="#484e4f" stroke-width="3.0" fill="none" stroke-linecap="round"/>
<path d="M68,24 Q71,34 70,44" stroke="#484e4f" stroke-width="2.5" fill="none" stroke-linecap="round"/>
<path d="M9,31 Q21,37 30.5,38.5" stroke="#5e605a" stroke-width="1.76" fill="none" stroke-linecap="round"/>
<path d="M10,38.5 Q24,43 33,45" stroke="#5e605a" stroke-width="1.76" fill="none" stroke-linecap="round"/>
<path d="M13,50 Q32,53 43,55" stroke="#5e605a" stroke-width="2.00" fill="none" stroke-linecap="round"/>
<path d="M11,51.6 Q32,55 45,58" stroke="#5e605a" stroke-width="1.76" fill="none" stroke-linecap="round"/>
<path d="M11,57 Q32,60 47,61" stroke="#5e605a" stroke-width="2.00" fill="none" stroke-linecap="round"/>
<path d="M11,64 Q32,63 48,67" stroke="#5e605a" stroke-width="2.00" fill="none" stroke-linecap="round"/>
<path d="M14,69 Q32,68 47,69" stroke="#5e605a" stroke-width="1.60" fill="none" stroke-linecap="round"/>
<path d="M33,26 Q36,33 40,45" stroke="#5e605a" stroke-width="1.60" fill="none" stroke-linecap="round"/>
<path d="M59.4,67.7 Q64.2,77.3 66.5,83.7" stroke="#a8a594" stroke-width="4.5" fill="none" stroke-linecap="round"/>
<path d="M42.6,22.5 Q46.8,27.8 48,35.3" stroke="#5e5c52" stroke-width="7.05" fill="none" stroke-linecap="round"/>
<path d="M42.6,22.5 Q46.8,27.8 48,35.3" stroke="#b9b39a" stroke-width="5.85" fill="none" stroke-linecap="round"/>
<path d="M42.6,22.5 Q46.8,27.8 48,35.3" stroke="#d8d2b6" stroke-width="3.33" fill="none" stroke-linecap="round"/>
<path d="M29.7,35.3 Q40,31.5 50,38.5" stroke="#5e5c52" stroke-width="6.38" fill="none" stroke-linecap="round"/>
<path d="M29.7,35.3 Q40,31.5 50,38.5" stroke="#b9b39a" stroke-width="5.18" fill="none" stroke-linecap="round"/>
<path d="M29.7,35.3 Q40,31.5 50,38.5" stroke="#d8d2b6" stroke-width="2.96" fill="none" stroke-linecap="round"/>
<path d="M48,37 Q53.1,38.0 55,42" stroke="#5e5c52" stroke-width="5.70" fill="none" stroke-linecap="round"/>
<path d="M48,37 Q53.1,38.0 55,42" stroke="#b9b39a" stroke-width="4.50" fill="none" stroke-linecap="round"/>
<path d="M48,37 Q53.1,38.0 55,42" stroke="#d8d2b6" stroke-width="2.59" fill="none" stroke-linecap="round"/>
<path d="M57,23.3 Q50.5,33 62.6,43.4" stroke="#5e5c52" stroke-width="7.05" fill="none" stroke-linecap="round"/>
<path d="M57,23.3 Q50.5,33 62.6,43.4" stroke="#b9b39a" stroke-width="5.85" fill="none" stroke-linecap="round"/>
<path d="M57,23.3 Q50.5,33 62.6,43.4" stroke="#d8d2b6" stroke-width="3.33" fill="none" stroke-linecap="round"/>
<path d="M75.5,25.7 Q84,35 73,45.8" stroke="#5e5c52" stroke-width="8.28" fill="none" stroke-linecap="round"/>
<path d="M75.5,25.7 Q84,35 73,45.8" stroke="#b9b39a" stroke-width="7.08" fill="none" stroke-linecap="round"/>
<path d="M75.5,25.7 Q84,35 73,45.8" stroke="#d8d2b6" stroke-width="4.00" fill="none" stroke-linecap="round"/>
<path d="M66,30 Q70,36 68,42" stroke="#5e5c52" stroke-width="4.92" fill="none" stroke-linecap="round"/>
<path d="M66,30 Q70,36 68,42" stroke="#b9b39a" stroke-width="3.72" fill="none" stroke-linecap="round"/>
<path d="M66,30 Q70,36 68,42" stroke="#d8d2b6" stroke-width="2.16" fill="none" stroke-linecap="round"/>
<path d="M42,45 Q49,47 54,46.5" stroke="#5e5c52" stroke-width="5.48" fill="none" stroke-linecap="round"/>
<path d="M42,45 Q49,47 54,46.5" stroke="#b9b39a" stroke-width="4.28" fill="none" stroke-linecap="round"/>
<path d="M42,45 Q49,47 54,46.5" stroke="#d8d2b6" stroke-width="2.46" fill="none" stroke-linecap="round"/>
<path d="M45,56.4 Q53,58.5 59.4,57.2" stroke="#5e5c52" stroke-width="5.48" fill="none" stroke-linecap="round"/>
<path d="M45,56.4 Q53,58.5 59.4,57.2" stroke="#b9b39a" stroke-width="4.28" fill="none" stroke-linecap="round"/>
<path d="M45,56.4 Q53,58.5 59.4,57.2" stroke="#d8d2b6" stroke-width="2.46" fill="none" stroke-linecap="round"/>
<path d="M55,54.5 Q61.2,53.6 66,55.5" stroke="#5e5c52" stroke-width="4.92" fill="none" stroke-linecap="round"/>
<path d="M55,54.5 Q61.2,53.6 66,55.5" stroke="#b9b39a" stroke-width="3.72" fill="none" stroke-linecap="round"/>
<path d="M55,54.5 Q61.2,53.6 66,55.5" stroke="#d8d2b6" stroke-width="2.16" fill="none" stroke-linecap="round"/>
<path d="M62.6,59.6 Q69,62.8 67.4,66" stroke="#5e5c52" stroke-width="4.92" fill="none" stroke-linecap="round"/>
<path d="M62.6,59.6 Q69,62.8 67.4,66" stroke="#b9b39a" stroke-width="3.72" fill="none" stroke-linecap="round"/>
<path d="M62.6,59.6 Q69,62.8 67.4,66" stroke="#d8d2b6" stroke-width="2.16" fill="none" stroke-linecap="round"/>
<path d="M51.4,72.5 Q57.8,74.5 62.6,72.5" stroke="#5e5c52" stroke-width="5.48" fill="none" stroke-linecap="round"/>
<path d="M51.4,72.5 Q57.8,74.5 62.6,72.5" stroke="#b9b39a" stroke-width="4.28" fill="none" stroke-linecap="round"/>
<path d="M51.4,72.5 Q57.8,74.5 62.6,72.5" stroke="#d8d2b6" stroke-width="2.46" fill="none" stroke-linecap="round"/>

<ellipse cx="70.6" cy="81" rx="2.0" ry="2.6" fill="#d6c226"/>
</g></g>
<g transform="translate(301.10,438.20)">
<rect x="0" y="0" width="110.10" height="109.30" fill="#080808"/>
<g filter="url(#blur3)">
<ellipse cx="57" cy="44" rx="47" ry="20" fill="#403f39"/>
<ellipse cx="60" cy="72" rx="14" ry="12" fill="#2e2e2a"/>
</g><g filter="url(#soft)">
<ellipse cx="20" cy="36" rx="10" ry="8" fill="#9a9a90" opacity="0.2" filter="url(#blur3)"/>
<ellipse cx="64" cy="84" rx="7" ry="6" fill="#9a9a90" opacity="0.45" filter="url(#blur3)"/>
<ellipse cx="58" cy="80" rx="4" ry="4" fill="#9a9a90" opacity="0.4" filter="url(#blur3)"/>
<path d="M21,12 Q26,10 32,16" stroke="#484e4f" stroke-width="2.2" fill="none" stroke-linecap="round"/>
<path d="M60,15 Q66,17 72,20" stroke="#484e4f" stroke-width="3" fill="none" stroke-linecap="round"/>
<path d="M76,10 Q78,16 79,22" stroke="#484e4f" stroke-width="2.5" fill="none" stroke-linecap="round"/>
<path d="M96,14 Q100,18 103,21" stroke="#484e4f" stroke-width="2.5" fill="none" stroke-linecap="round"/>
<path d="M85,16 Q88,19 92,22" stroke="#484e4f" stroke-width="2" fill="none" stroke-linecap="round"/>
<path d="M55,22 Q60,20 66,22" stroke="#484e4f" stroke-width="2" fill="none" stroke-linecap="round"/>
<path d="M10,32 Q16,28 24,30" stroke="#5e605a" stroke-width="1.20" fill="none" stroke-linecap="round"/>
<path d="M8,38 Q14,34 22,36" stroke="#5e605a" stroke-width="1.20" fill="none" stroke-linecap="round"/>
<path d="M33,17 Q40,24 43,35" stroke="#5e5c52" stroke-width="7.94" fill="none" stroke-linecap="round"/>
<path d="M33,17 Q40,24 43,35" stroke="#b9b39a" stroke-width="6.74" fill="none" stroke-linecap="round"/>
<path d="M33,17 Q40,24 43,35" stroke="#d8d2b6" stroke-width="3.82" fill="none" stroke-linecap="round"/>
<path d="M30.5,22.5 Q33,31 37.7,37" stroke="#5e5c52" stroke-width="7.16" fill="none" stroke-linecap="round"/>
<path d="M30.5,22.5 Q33,31 37.7,37" stroke="#b9b39a" stroke-width="5.96" fill="none" stroke-linecap="round"/>
<path d="M30.5,22.5 Q33,31 37.7,37" stroke="#d8d2b6" stroke-width="3.39" fill="none" stroke-linecap="round"/>
<path d="M48,25.7 Q54.5,31.9 53,41.8" stroke="#5e5c52" stroke-width="7.16" fill="none" stroke-linecap="round"/>
<path d="M48,25.7 Q54.5,31.9 53,41.8" stroke="#b9b39a" stroke-width="5.96" fill="none" stroke-linecap="round"/>
<path d="M48,25.7 Q54.5,31.9 53,41.8" stroke="#d8d2b6" stroke-width="3.39" fill="none" stroke-linecap="round"/>
<path d="M58.6,27.3 Q64.2,33.9 63.4,41.8" stroke="#5e5c52" stroke-width="7.16" fill="none" stroke-linecap="round"/>
<path d="M58.6,27.3 Q64.2,33.9 63.4,41.8" stroke="#b9b39a" stroke-width="5.96" fill="none" stroke-linecap="round"/>
<path d="M58.6,27.3 Q64.2,33.9 63.4,41.8" stroke="#d8d2b6" stroke-width="3.39" fill="none" stroke-linecap="round"/>
<path d="M64,28 Q69.6,32.9 69,40" stroke="#5e5c52" stroke-width="6.60" fill="none" stroke-linecap="round"/>
<path d="M64,28 Q69.6,32.9 69,40" stroke="#b9b39a" stroke-width="5.40" fill="none" stroke-linecap="round"/>
<path d="M64,28 Q69.6,32.9 69,40" stroke="#d8d2b6" stroke-width="3.08" fill="none" stroke-linecap="round"/>
<path d="M72,27 Q77,34 78,41" stroke="#5e5c52" stroke-width="6.60" fill="none" stroke-linecap="round"/>
<path d="M72,27 Q77,34 78,41" stroke="#b9b39a" stroke-width="5.40" fill="none" stroke-linecap="round"/>
<path d="M72,27 Q77,34 78,41" stroke="#d8d2b6" stroke-width="3.08" fill="none" stroke-linecap="round"/>
<path d="M83.5,27.3 Q90.8,32.6 90,40" stroke="#5e5c52" stroke-width="7.16" fill="none" stroke-linecap="round"/>
<path d="M83.5,27.3 Q90.8,32.6 90,40" stroke="#b9b39a" stroke-width="5.96" fill="none" stroke-linecap="round"/>
<path d="M83.5,27.3 Q90.8,32.6 90,40" stroke="#d8d2b6" stroke-width="3.39" fill="none" stroke-linecap="round"/>
<path d="M92.3,22.5 Q98.8,27.7 98,35.3" stroke="#5e5c52" stroke-width="7.16" fill="none" stroke-linecap="round"/>
<path d="M92.3,22.5 Q98.8,27.7 98,35.3" stroke="#b9b39a" stroke-width="5.96" fill="none" stroke-linecap="round"/>
<path d="M92.3,22.5 Q98.8,27.7 98,35.3" stroke="#d8d2b6" stroke-width="3.39" fill="none" stroke-linecap="round"/>
<path d="M102.8,27.3 Q105,34 103,40" stroke="#5e5c52" stroke-width="6.60" fill="none" stroke-linecap="round"/>
<path d="M102.8,27.3 Q105,34 103,40" stroke="#b9b39a" stroke-width="5.40" fill="none" stroke-linecap="round"/>
<path d="M102.8,27.3 Q105,34 103,40" stroke="#d8d2b6" stroke-width="3.08" fill="none" stroke-linecap="round"/>
<path d="M19,40 Q30.2,43.8 38,54.6" stroke="#5e5c52" stroke-width="7.16" fill="none" stroke-linecap="round"/>
<path d="M19,40 Q30.2,43.8 38,54.6" stroke="#b9b39a" stroke-width="5.96" fill="none" stroke-linecap="round"/>
<path d="M19,40 Q30.2,43.8 38,54.6" stroke="#d8d2b6" stroke-width="3.39" fill="none" stroke-linecap="round"/>
<path d="M32,40 Q43.2,43.8 46.6,54.6" stroke="#5e5c52" stroke-width="7.16" fill="none" stroke-linecap="round"/>
<path d="M32,40 Q43.2,43.8 46.6,54.6" stroke="#b9b39a" stroke-width="5.96" fill="none" stroke-linecap="round"/>
<path d="M32,40 Q43.2,43.8 46.6,54.6" stroke="#d8d2b6" stroke-width="3.39" fill="none" stroke-linecap="round"/>
<path d="M56,46.6 Q63,49 69,54.6" stroke="#5e5c52" stroke-width="6.60" fill="none" stroke-linecap="round"/>
<path d="M56,46.6 Q63,49 69,54.6" stroke="#b9b39a" stroke-width="5.40" fill="none" stroke-linecap="round"/>
<path d="M56,46.6 Q63,49 69,54.6" stroke="#d8d2b6" stroke-width="3.08" fill="none" stroke-linecap="round"/>
<path d="M67.4,41.8 Q78.8,43.1 85,54.6" stroke="#5e5c52" stroke-width="7.16" fill="none" stroke-linecap="round"/>
<path d="M67.4,41.8 Q78.8,43.1 85,54.6" stroke="#b9b39a" stroke-width="5.96" fill="none" stroke-linecap="round"/>
<path d="M67.4,41.8 Q78.8,43.1 85,54.6" stroke="#d8d2b6" stroke-width="3.39" fill="none" stroke-linecap="round"/>
<path d="M86,42 Q93,47 100,44" stroke="#5e5c52" stroke-width="6.60" fill="none" stroke-linecap="round"/>
<path d="M86,42 Q93,47 100,44" stroke="#b9b39a" stroke-width="5.40" fill="none" stroke-linecap="round"/>
<path d="M86,42 Q93,47 100,44" stroke="#d8d2b6" stroke-width="3.08" fill="none" stroke-linecap="round"/>
<path d="M12,43 Q13.1,51.8 20,56" stroke="#5e5c52" stroke-width="6.04" fill="none" stroke-linecap="round"/>
<path d="M12,43 Q13.1,51.8 20,56" stroke="#b9b39a" stroke-width="4.84" fill="none" stroke-linecap="round"/>
<path d="M12,43 Q13.1,51.8 20,56" stroke="#d8d2b6" stroke-width="2.77" fill="none" stroke-linecap="round"/>
<path d="M8,50 Q7.5,55.7 11.2,59.6" stroke="#5e5c52" stroke-width="6.04" fill="none" stroke-linecap="round"/>
<path d="M8,50 Q7.5,55.7 11.2,59.6" stroke="#b9b39a" stroke-width="4.84" fill="none" stroke-linecap="round"/>
<path d="M8,50 Q7.5,55.7 11.2,59.6" stroke="#d8d2b6" stroke-width="2.77" fill="none" stroke-linecap="round"/>
<path d="M16,53 Q20.8,64.5 32,67.7" stroke="#5e5c52" stroke-width="7.16" fill="none" stroke-linecap="round"/>
<path d="M16,53 Q20.8,64.5 32,67.7" stroke="#b9b39a" stroke-width="5.96" fill="none" stroke-linecap="round"/>
<path d="M16,53 Q20.8,64.5 32,67.7" stroke="#d8d2b6" stroke-width="3.39" fill="none" stroke-linecap="round"/>
<path d="M24,50 Q34.1,51.8 38.5,59.6" stroke="#5e5c52" stroke-width="6.60" fill="none" stroke-linecap="round"/>
<path d="M24,50 Q34.1,51.8 38.5,59.6" stroke="#b9b39a" stroke-width="5.40" fill="none" stroke-linecap="round"/>
<path d="M24,50 Q34.1,51.8 38.5,59.6" stroke="#d8d2b6" stroke-width="3.08" fill="none" stroke-linecap="round"/>
<path d="M37,50 Q38.8,59.1 46.6,64.5" stroke="#5e5c52" stroke-width="6.60" fill="none" stroke-linecap="round"/>
<path d="M37,50 Q38.8,59.1 46.6,64.5" stroke="#b9b39a" stroke-width="5.40" fill="none" stroke-linecap="round"/>
<path d="M37,50 Q38.8,59.1 46.6,64.5" stroke="#d8d2b6" stroke-width="3.08" fill="none" stroke-linecap="round"/>
<path d="M45,50 Q51.8,54.6 51.4,62.8" stroke="#5e5c52" stroke-width="6.04" fill="none" stroke-linecap="round"/>
<path d="M45,50 Q51.8,54.6 51.4,62.8" stroke="#b9b39a" stroke-width="4.84" fill="none" stroke-linecap="round"/>
<path d="M45,50 Q51.8,54.6 51.4,62.8" stroke="#d8d2b6" stroke-width="2.77" fill="none" stroke-linecap="round"/>
<path d="M56,50 Q65.1,50.8 70.7,59.6" stroke="#5e5c52" stroke-width="6.60" fill="none" stroke-linecap="round"/>
<path d="M56,50 Q65.1,50.8 70.7,59.6" stroke="#b9b39a" stroke-width="5.40" fill="none" stroke-linecap="round"/>
<path d="M56,50 Q65.1,50.8 70.7,59.6" stroke="#d8d2b6" stroke-width="3.08" fill="none" stroke-linecap="round"/>
<path d="M69,53 Q78.7,50.8 88,56.4" stroke="#5e5c52" stroke-width="6.60" fill="none" stroke-linecap="round"/>
<path d="M69,53 Q78.7,50.8 88,56.4" stroke="#b9b39a" stroke-width="5.40" fill="none" stroke-linecap="round"/>
<path d="M69,53 Q78.7,50.8 88,56.4" stroke="#d8d2b6" stroke-width="3.08" fill="none" stroke-linecap="round"/>
<path d="M43.4,66 Q46.5,74.5 54.6,77.3" stroke="#5e5c52" stroke-width="6.04" fill="none" stroke-linecap="round"/>
<path d="M43.4,66 Q46.5,74.5 54.6,77.3" stroke="#b9b39a" stroke-width="4.84" fill="none" stroke-linecap="round"/>
<path d="M43.4,66 Q46.5,74.5 54.6,77.3" stroke="#d8d2b6" stroke-width="2.77" fill="none" stroke-linecap="round"/>
<path d="M62.6,69.3 Q67.4,70.6 69,75.7" stroke="#5e5c52" stroke-width="6.60" fill="none" stroke-linecap="round"/>
<path d="M62.6,69.3 Q67.4,70.6 69,75.7" stroke="#b9b39a" stroke-width="5.40" fill="none" stroke-linecap="round"/>
<path d="M62.6,69.3 Q67.4,70.6 69,75.7" stroke="#d8d2b6" stroke-width="3.08" fill="none" stroke-linecap="round"/>
<path d="M72,67 Q75.8,70.5 74.5,75" stroke="#5e5c52" stroke-width="5.48" fill="none" stroke-linecap="round"/>
<path d="M72,67 Q75.8,70.5 74.5,75" stroke="#b9b39a" stroke-width="4.28" fill="none" stroke-linecap="round"/>
<path d="M72,67 Q75.8,70.5 74.5,75" stroke="#d8d2b6" stroke-width="2.46" fill="none" stroke-linecap="round"/>

<ellipse cx="68.5" cy="91.5" rx="3.0" ry="2.4" fill="#d6c226"/>
</g></g>
<g transform="translate(412.20,438.20)">
<rect x="0" y="0" width="109.50" height="109.30" fill="#080808"/>
<g filter="url(#blur3)">
<ellipse cx="55" cy="42" rx="50" ry="20" fill="#45443d"/>
<ellipse cx="57" cy="66" rx="20" ry="10" fill="#36352f"/>
</g><g filter="url(#soft)">
<ellipse cx="57" cy="85" rx="8" ry="6" fill="#9a9a90" opacity="0.45" filter="url(#blur3)"/>
<ellipse cx="62" cy="78" rx="5" ry="5" fill="#9a9a90" opacity="0.4" filter="url(#blur3)"/>
<path d="M32,16 Q40,11 52,15" stroke="#484e4f" stroke-width="2.5" fill="none" stroke-linecap="round"/>
<path d="M44,14 Q48,20 52,27" stroke="#484e4f" stroke-width="2.5" fill="none" stroke-linecap="round"/>
<path d="M22,22 Q26,18 32,20" stroke="#484e4f" stroke-width="2.0" fill="none" stroke-linecap="round"/>
<path d="M54.6,16 Q64.2,21.7 75.5,17.7" stroke="#5e5c52" stroke-width="7.27" fill="none" stroke-linecap="round"/>
<path d="M54.6,16 Q64.2,21.7 75.5,17.7" stroke="#b9b39a" stroke-width="6.07" fill="none" stroke-linecap="round"/>
<path d="M54.6,16 Q64.2,21.7 75.5,17.7" stroke="#d8d2b6" stroke-width="3.45" fill="none" stroke-linecap="round"/>
<path d="M29,24 Q36.6,29.9 38.5,37" stroke="#5e5c52" stroke-width="7.94" fill="none" stroke-linecap="round"/>
<path d="M29,24 Q36.6,29.9 38.5,37" stroke="#b9b39a" stroke-width="6.74" fill="none" stroke-linecap="round"/>
<path d="M29,24 Q36.6,29.9 38.5,37" stroke="#d8d2b6" stroke-width="3.82" fill="none" stroke-linecap="round"/>
<path d="M9.6,27.3 Q26.5,25.0 37,38.5" stroke="#5e5c52" stroke-width="6.38" fill="none" stroke-linecap="round"/>
<path d="M9.6,27.3 Q26.5,25.0 37,38.5" stroke="#b9b39a" stroke-width="5.18" fill="none" stroke-linecap="round"/>
<path d="M9.6,27.3 Q26.5,25.0 37,38.5" stroke="#d8d2b6" stroke-width="2.96" fill="none" stroke-linecap="round"/>
<path d="M3.2,41.8 Q7,51.4 17.7,54.6" stroke="#5e5c52" stroke-width="7.94" fill="none" stroke-linecap="round"/>
<path d="M3.2,41.8 Q7,51.4 17.7,54.6" stroke="#b9b39a" stroke-width="6.74" fill="none" stroke-linecap="round"/>
<path d="M3.2,41.8 Q7,51.4 17.7,54.6" stroke="#d8d2b6" stroke-width="3.82" fill="none" stroke-linecap="round"/>
<path d="M17.7,37 Q18.5,48.2 27.3,53" stroke="#5e5c52" stroke-width="7.16" fill="none" stroke-linecap="round"/>
<path d="M17.7,37 Q18.5,48.2 27.3,53" stroke="#b9b39a" stroke-width="5.96" fill="none" stroke-linecap="round"/>
<path d="M17.7,37 Q18.5,48.2 27.3,53" stroke="#d8d2b6" stroke-width="3.39" fill="none" stroke-linecap="round"/>
<path d="M24,38.5 Q26.5,48.2 37,51.4" stroke="#5e5c52" stroke-width="7.16" fill="none" stroke-linecap="round"/>
<path d="M24,38.5 Q26.5,48.2 37,51.4" stroke="#b9b39a" stroke-width="5.96" fill="none" stroke-linecap="round"/>
<path d="M24,38.5 Q26.5,48.2 37,51.4" stroke="#d8d2b6" stroke-width="3.39" fill="none" stroke-linecap="round"/>
<path d="M41.8,32 Q45,40 43.4,46.6" stroke="#5e5c52" stroke-width="6.60" fill="none" stroke-linecap="round"/>
<path d="M41.8,32 Q45,40 43.4,46.6" stroke="#b9b39a" stroke-width="5.40" fill="none" stroke-linecap="round"/>
<path d="M41.8,32 Q45,40 43.4,46.6" stroke="#d8d2b6" stroke-width="3.08" fill="none" stroke-linecap="round"/>
<path d="M53,20.9 Q57.9,26.6 56.2,32.1" stroke="#5e5c52" stroke-width="5.48" fill="none" stroke-linecap="round"/>
<path d="M53,20.9 Q57.9,26.6 56.2,32.1" stroke="#b9b39a" stroke-width="4.28" fill="none" stroke-linecap="round"/>
<path d="M53,20.9 Q57.9,26.6 56.2,32.1" stroke="#d8d2b6" stroke-width="2.46" fill="none" stroke-linecap="round"/>
<path d="M61,27.3 Q63,34.7 57.5,40.6" stroke="#5e5c52" stroke-width="7.94" fill="none" stroke-linecap="round"/>
<path d="M61,27.3 Q63,34.7 57.5,40.6" stroke="#b9b39a" stroke-width="6.74" fill="none" stroke-linecap="round"/>
<path d="M61,27.3 Q63,34.7 57.5,40.6" stroke="#d8d2b6" stroke-width="3.82" fill="none" stroke-linecap="round"/>
<path d="M71,29 Q71.5,37.5 65,43.6" stroke="#5e5c52" stroke-width="7.94" fill="none" stroke-linecap="round"/>
<path d="M71,29 Q71.5,37.5 65,43.6" stroke="#b9b39a" stroke-width="6.74" fill="none" stroke-linecap="round"/>
<path d="M71,29 Q71.5,37.5 65,43.6" stroke="#d8d2b6" stroke-width="3.82" fill="none" stroke-linecap="round"/>
<path d="M79,33.2 Q79,42.3 71,49.2" stroke="#5e5c52" stroke-width="7.94" fill="none" stroke-linecap="round"/>
<path d="M79,33.2 Q79,42.3 71,49.2" stroke="#b9b39a" stroke-width="6.74" fill="none" stroke-linecap="round"/>
<path d="M79,33.2 Q79,42.3 71,49.2" stroke="#d8d2b6" stroke-width="3.82" fill="none" stroke-linecap="round"/>
<path d="M87,35.3 Q87,44.4 79,50.8" stroke="#5e5c52" stroke-width="7.72" fill="none" stroke-linecap="round"/>
<path d="M87,35.3 Q87,44.4 79,50.8" stroke="#b9b39a" stroke-width="6.52" fill="none" stroke-linecap="round"/>
<path d="M87,35.3 Q87,44.4 79,50.8" stroke="#d8d2b6" stroke-width="3.70" fill="none" stroke-linecap="round"/>
<path d="M94,37 Q95,45 88,52.4" stroke="#5e5c52" stroke-width="7.72" fill="none" stroke-linecap="round"/>
<path d="M94,37 Q95,45 88,52.4" stroke="#b9b39a" stroke-width="6.52" fill="none" stroke-linecap="round"/>
<path d="M94,37 Q95,45 88,52.4" stroke="#d8d2b6" stroke-width="3.70" fill="none" stroke-linecap="round"/>
<path d="M100,40 Q101,47.6 95,54" stroke="#5e5c52" stroke-width="7.16" fill="none" stroke-linecap="round"/>
<path d="M100,40 Q101,47.6 95,54" stroke="#b9b39a" stroke-width="5.96" fill="none" stroke-linecap="round"/>
<path d="M100,40 Q101,47.6 95,54" stroke="#d8d2b6" stroke-width="3.39" fill="none" stroke-linecap="round"/>
<path d="M4.8,50 Q12.8,56.4 22.5,54.8" stroke="#5e5c52" stroke-width="7.16" fill="none" stroke-linecap="round"/>
<path d="M4.8,50 Q12.8,56.4 22.5,54.8" stroke="#b9b39a" stroke-width="5.96" fill="none" stroke-linecap="round"/>
<path d="M4.8,50 Q12.8,56.4 22.5,54.8" stroke="#d8d2b6" stroke-width="3.39" fill="none" stroke-linecap="round"/>
<path d="M24,54.8 Q29.9,62.8 38.5,64.5" stroke="#5e5c52" stroke-width="6.60" fill="none" stroke-linecap="round"/>
<path d="M24,54.8 Q29.9,62.8 38.5,64.5" stroke="#b9b39a" stroke-width="5.40" fill="none" stroke-linecap="round"/>
<path d="M24,54.8 Q29.9,62.8 38.5,64.5" stroke="#d8d2b6" stroke-width="3.08" fill="none" stroke-linecap="round"/>
<path d="M46.6,66 Q50.1,67.4 51.4,70.9" stroke="#5e5c52" stroke-width="7.72" fill="none" stroke-linecap="round"/>
<path d="M46.6,66 Q50.1,67.4 51.4,70.9" stroke="#b9b39a" stroke-width="6.52" fill="none" stroke-linecap="round"/>
<path d="M46.6,66 Q50.1,67.4 51.4,70.9" stroke="#d8d2b6" stroke-width="3.70" fill="none" stroke-linecap="round"/>
<path d="M62.6,66 Q62.4,69.7 59.4,72.5" stroke="#5e5c52" stroke-width="7.16" fill="none" stroke-linecap="round"/>
<path d="M62.6,66 Q62.4,69.7 59.4,72.5" stroke="#b9b39a" stroke-width="5.96" fill="none" stroke-linecap="round"/>
<path d="M62.6,66 Q62.4,69.7 59.4,72.5" stroke="#d8d2b6" stroke-width="3.39" fill="none" stroke-linecap="round"/>
<path d="M70.7,59.6 Q80.3,67 90,66" stroke="#5e5c52" stroke-width="7.94" fill="none" stroke-linecap="round"/>
<path d="M70.7,59.6 Q80.3,67 90,66" stroke="#b9b39a" stroke-width="6.74" fill="none" stroke-linecap="round"/>
<path d="M70.7,59.6 Q80.3,67 90,66" stroke="#d8d2b6" stroke-width="3.82" fill="none" stroke-linecap="round"/>
<path d="M90,59.6 Q98,59.6 101,54.8" stroke="#5e5c52" stroke-width="6.60" fill="none" stroke-linecap="round"/>
<path d="M90,59.6 Q98,59.6 101,54.8" stroke="#b9b39a" stroke-width="5.40" fill="none" stroke-linecap="round"/>
<path d="M90,59.6 Q98,59.6 101,54.8" stroke="#d8d2b6" stroke-width="3.08" fill="none" stroke-linecap="round"/>
<path d="M46,45 Q52,50 58,52" stroke="#5e5c52" stroke-width="6.60" fill="none" stroke-linecap="round"/>
<path d="M46,45 Q52,50 58,52" stroke="#b9b39a" stroke-width="5.40" fill="none" stroke-linecap="round"/>
<path d="M46,45 Q52,50 58,52" stroke="#d8d2b6" stroke-width="3.08" fill="none" stroke-linecap="round"/>
<path d="M60,45 Q68.2,47.8 70,55" stroke="#5e5c52" stroke-width="6.60" fill="none" stroke-linecap="round"/>
<path d="M60,45 Q68.2,47.8 70,55" stroke="#b9b39a" stroke-width="5.40" fill="none" stroke-linecap="round"/>
<path d="M60,45 Q68.2,47.8 70,55" stroke="#d8d2b6" stroke-width="3.08" fill="none" stroke-linecap="round"/>
<path d="M64,9.6 Q64.5,9.8 65,10" stroke="#5e5c52" stroke-width="4.36" fill="none" stroke-linecap="round"/>
<path d="M64,9.6 Q64.5,9.8 65,10" stroke="#b9b39a" stroke-width="3.16" fill="none" stroke-linecap="round"/>
<path d="M64,9.6 Q64.5,9.8 65,10" stroke="#d8d2b6" stroke-width="1.85" fill="none" stroke-linecap="round"/>
<ellipse cx="90" cy="25" rx="14" ry="10" fill="#2f302d" filter="url(#blur3)"/><path d="M78,16 Q86,12 96,16 M80,22 Q90,19 100,24 M78,28 Q88,26 98,31 M84,34 Q92,32 101,36 M92,12 Q96,18 94,26" stroke="#55574f" stroke-width="1.6" fill="none" stroke-linecap="round"/><path d="M82,19 l1,0 M88,14 l1,0 M95,21 l1,0 M86,27 l1,0 M97,29 l1,0 M80,31 l1,0" stroke="#9a9888" stroke-width="1.2" stroke-linecap="round"/>
<ellipse cx="54.6" cy="94.8" rx="3.2" ry="2.2" fill="#d6c226"/>
</g></g>
<line x1="263.50" y1="533.40" x2="292.80" y2="533.40" stroke="#e8e8e8" stroke-width="0.9"/>
<text x="278.10" y="531.80" font-size="5.6" fill="#e0e0e0" text-anchor="middle" font-weight="normal" font-family="Liberation Serif, serif">1000 μm</text>
<line x1="379.40" y1="536.20" x2="408.30" y2="536.20" stroke="#e8e8e8" stroke-width="0.9"/>
<text x="393.80" y="534.60" font-size="5.6" fill="#e0e0e0" text-anchor="middle" font-weight="normal" font-family="Liberation Serif, serif">1000 μm</text>
<line x1="485.10" y1="535.60" x2="514.80" y2="535.60" stroke="#e8e8e8" stroke-width="0.9"/>
<text x="500.00" y="534.00" font-size="5.6" fill="#e0e0e0" text-anchor="middle" font-weight="normal" font-family="Liberation Serif, serif">1000 μm</text>
<text x="242.50" y="566.80" font-size="13.4" fill="#111" text-anchor="middle" font-weight="normal">-rib</text>
<text x="353.70" y="566.80" font-size="12.95" fill="#111" text-anchor="middle" font-weight="normal">1*rib</text>
<text x="469.40" y="566.80" font-size="12.95" fill="#111" text-anchor="middle" font-weight="normal">2*rib</text>
</svg>
</body></html>
